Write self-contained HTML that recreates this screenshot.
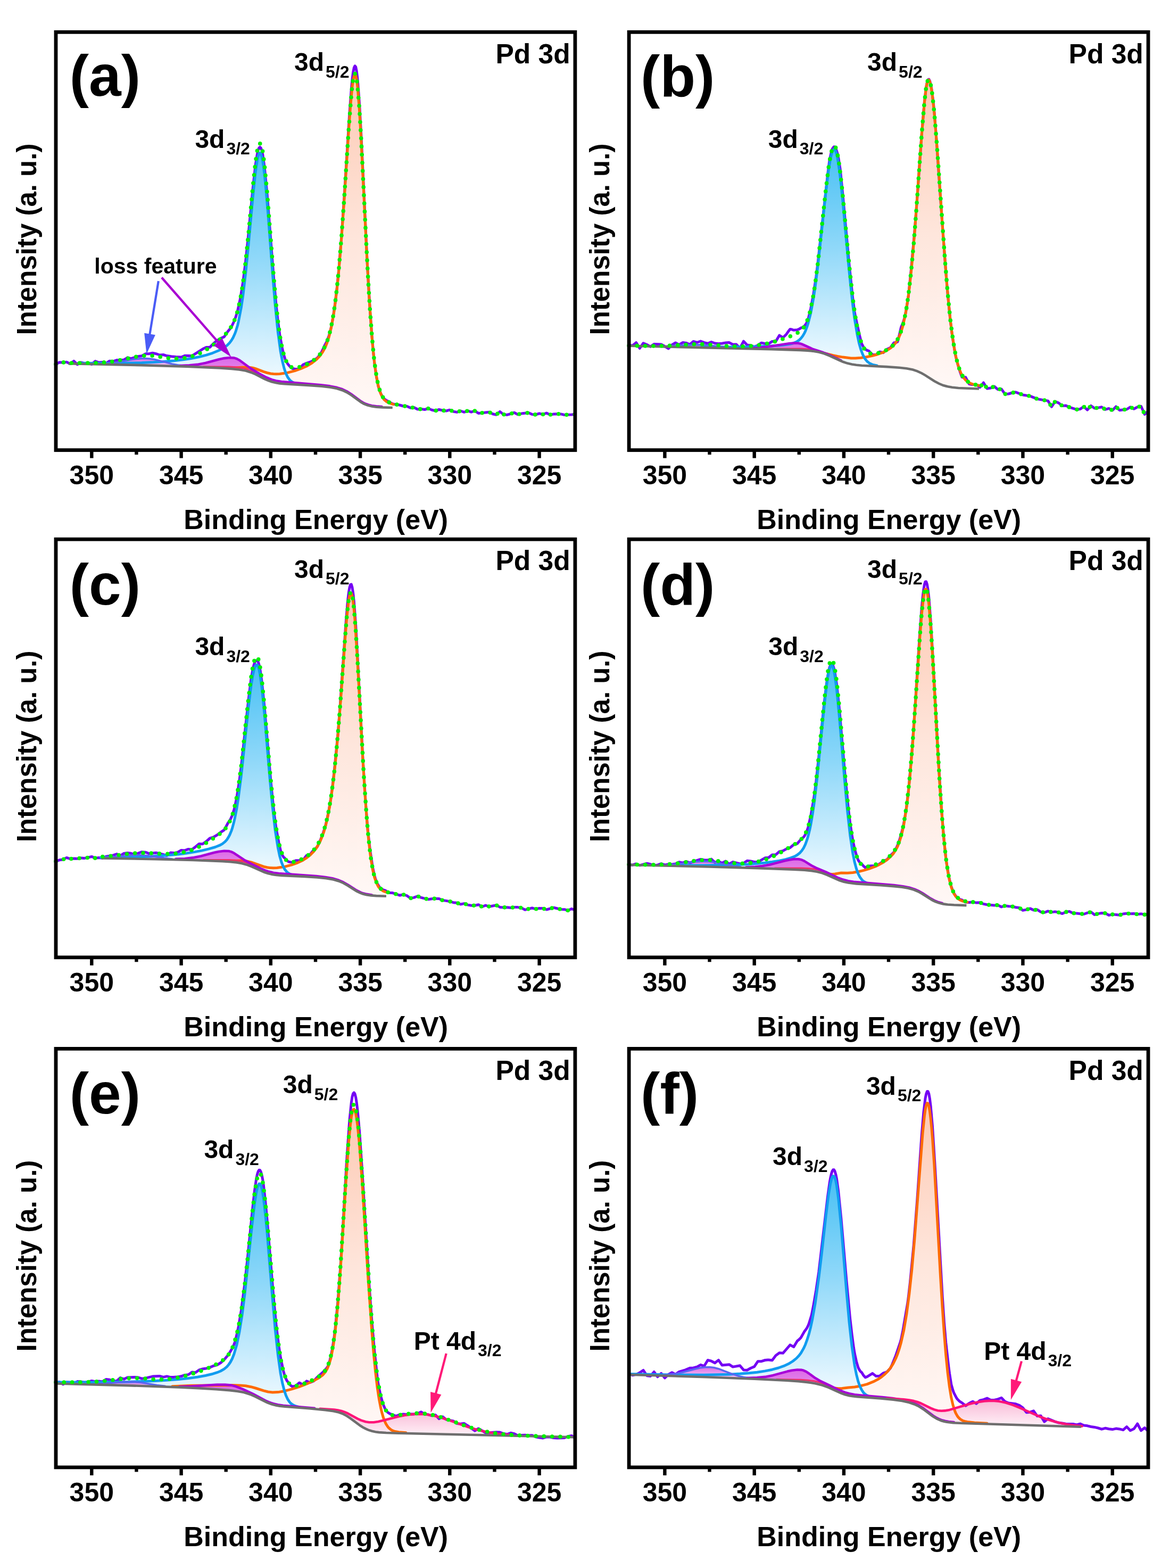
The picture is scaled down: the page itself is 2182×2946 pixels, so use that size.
<!DOCTYPE html>
<html><head><meta charset="utf-8"><title>Pd 3d XPS</title><style>
html,body{margin:0;padding:0;background:#fff;}
svg{display:block;}
text{font-family:"Liberation Sans",Arial,sans-serif;font-weight:bold;fill:#000;}
.tk{font-size:50px;text-anchor:middle;}
.xt{font-size:52px;text-anchor:middle;}
.yt{font-size:51px;text-anchor:middle;}
.pl{font-size:109px;}
.pd{font-size:51.5px;text-anchor:end;}
.pk{font-size:48px;}
.sb{font-size:32px;}
.lf{font-size:41px;}
</style></head>
<body><svg xmlns="http://www.w3.org/2000/svg" width="2182" height="2946" viewBox="0 0 2182 2946">
<rect width="2182" height="2946" fill="#fff"/>
<defs>
<linearGradient id="gBl" x1="0" y1="0" x2="0" y2="1"><stop offset="0" stop-color="#48c0f4"/><stop offset="0.45" stop-color="#8fd8f9"/><stop offset="1" stop-color="#f4fbff"/></linearGradient>
<linearGradient id="gOr" x1="0" y1="0" x2="0" y2="1"><stop offset="0" stop-color="#fdc9b3"/><stop offset="0.5" stop-color="#fee6dc"/><stop offset="1" stop-color="#fff8f6"/></linearGradient>
<linearGradient id="gMg" x1="0" y1="0" x2="0" y2="1"><stop offset="0" stop-color="#dc6ae6"/><stop offset="1" stop-color="#f8d4f8"/></linearGradient>
<linearGradient id="gPk" x1="0" y1="0" x2="0" y2="1"><stop offset="0" stop-color="#f8b6d4"/><stop offset="1" stop-color="#fff2f8"/></linearGradient>
</defs>
<g>
<path d="M423,691.4 436.5,691.2 460,689.9 468.4,690.2 473.5,690.9 478.5,692.1 498.7,699.5 505.5,701.4 510.5,702.3 517.2,702.8 524,702.6 530.7,701.9 539.1,700.4 552.6,697.1 566,692.5 576.1,688 586.2,682.1 594.6,675.5 601.4,668.5 606.4,661.4 611.5,652 614.8,643.7 618.2,633.2 623.2,612.2 628.3,582.6 633.3,542.4 636.7,508.8 641.7,448.1 646.8,376.4 655.2,246.5 658.6,200 661.9,163.7 663.6,151.1 665.3,143.1 667,139.9 668.7,141.9 670.3,149.8 672,163.3 675.4,205.4 678.8,262.9 688.9,469 692.2,532.1 697.3,611 699,632.5 702.3,668.6 705.7,696.1 709,716.2 712.4,730.5 715.8,740.3 719.1,746.9 720.8,749.3 724.2,752.9 729.2,756.2 732.6,757.6 737.7,759.1 L737.7,766 719.1,765.4 707.4,764.7 699,763.6 690.5,761.4 683.8,758.6 678.8,755.7 660.3,742.3 651.8,737.1 643.4,733.2 633.3,730 619.9,727.6 603,725.7 577.8,723.8 535.7,721.3 520.6,719.6 512.2,717.7 503.8,714.8 497,711.8 478.5,702.5 471.8,699.7 465.1,697.5 456.7,695.6 448.2,694.3 423,692 Z" fill="url(#gOr)" stroke="none"/>
<path d="M128.6,682.1 204.3,682.5 259.8,681.7 283.4,680.8 303.5,679.7 323.7,678.1 340.6,676.2 357.4,673.8 372.5,670.9 386,667.6 397.8,663.9 409.5,659.2 418,655 424.7,650.5 428.1,647.7 431.4,644.2 434.8,639.8 438.2,634.1 441.5,626.7 443.2,622.1 446.6,610.9 448.2,604.1 453.3,577.8 456.7,555 461.7,512.4 466.8,461.4 475.2,369.5 480.2,322.5 483.6,300.3 485.3,293 486.9,288.7 488.6,287.4 490.3,289.2 492,294.2 493.7,302.3 497,326.8 502.1,380.4 512.2,512.7 517.2,573.5 522.3,623.3 525.6,649.4 529,670 532.4,685.7 535.7,697.3 539.1,705.6 540.8,708.8 544.2,713.5 545.8,715.2 549.2,717.8 554.3,720.1 561,721.6 572.8,722.8 L572.8,723.4 532.4,721.1 524,720.1 515.6,718.6 508.8,716.7 502.1,714.1 478.5,702.5 468.4,698.5 461.7,696.6 455,695.3 438.2,693.2 396.1,690.5 335.5,688.1 254.8,685.9 128.6,683.1 Z" fill="url(#gBl)" stroke="none"/>
<path d="M320.4,687 347.3,686.9 357.4,686.3 367.5,685.3 375.9,684.1 386,682 411.2,675.3 421.3,673.1 431.4,672 439.8,672.4 444.9,674 449.9,676.7 470.1,691.5 490.3,703.7 502.1,709.8 512.2,713.7 520.6,715.7 530.7,717.3 599.7,723 616.5,724.9 630,727.3 640.1,730.1 645.1,732 650.2,734.4 658.6,739.5 678.8,754.2 683.8,757.1 690.5,760 699,762.2 707.4,763.4 719.1,764.2 737.7,765 L737.7,766 719.1,765.4 707.4,764.7 699,763.6 690.5,761.4 683.8,758.6 678.8,755.7 660.3,742.3 651.8,737.1 643.4,733.2 633.3,730 621.6,727.8 604.7,725.8 579.5,723.9 534.1,721.2 525.6,720.4 518.9,719.3 510.5,717.2 502.1,714.1 481.9,704.1 473.5,700.3 465.1,697.5 456.7,695.6 439.8,693.4 411.2,691.3 370.8,689.4 320.4,687.6 Z" fill="url(#gMg)" stroke="none"/>
<path d="M184.1,683.6 197.5,683 209.3,682 222.8,680.2 256.4,674.4 266.5,673.5 274.9,673.4 283.4,674.1 291.8,675.6 317,682.3 328.8,684.9 340.6,686.8 352.3,688.1 L352.3,688.7 283.4,686.6 184.1,684.3 Z" fill="url(#gMg)" stroke="none"/>
<path d="M105,684.3 111.7,680.8 118.5,681 125.2,680.3 131.9,683.4 138.7,678.4 145.4,684.9 152.1,681 158.8,682.7 165.6,681.7 172.3,684.4 179,678.6 185.8,681.1 192.5,680.6 199.2,682.5 206,678.2 212.7,678.8 219.4,676.5 226.1,676.7 232.9,676 239.6,671.8 246.3,673.7 259.8,669.5 266.5,668.7 273.3,664.8 280,664.8 286.7,663.2 293.4,664.7 300.2,667 306.9,666.5 313.6,668.6 322.1,669.8 330.5,670.5 340.6,671.1 347.3,668.2 360.8,668.6 380.9,655.8 387.7,652.5 394.4,652.5 401.1,645.6 407.9,639.7 414.6,635.8 421.3,632.9 428.1,622.8 431.4,618.9 434.8,614.3 439.8,604 443.2,595.1 446.6,583.8 451.6,561.1 456.7,530.2 461.7,490.5 466.8,441.6 475.2,354.2 480.2,309.6 483.6,288.7 485.3,281.8 486.9,277.7 488.6,276.4 490.3,278.1 492,282.6 493.7,290.1 497,313.3 502.1,365 513.9,515.4 518.9,572.3 522.3,603 525.6,627.9 530.7,655.6 534.1,669.1 535.7,674.3 537.4,678.2 540.8,683.8 544.2,687.9 545.8,689.7 549.2,692.2 554.3,693.3 559.3,693.5 562.7,693.2 569.4,685.3 576.1,682.3 584.5,679.5 591.3,676 596.3,672.5 603,664.2 606.4,657.4 609.8,649.7 613.1,643.7 614.8,640 618.2,630.8 621.6,618.5 623.2,611.1 626.6,592.1 630,568.6 633.3,540.9 636.7,507.6 641.7,445.7 646.8,372.9 656.9,213 660.3,167.9 661.9,150 663.6,136.3 665.3,127.4 667,123.8 668.7,125.9 670.3,134.3 672,148.7 675.4,193.4 678.8,254 690.5,499.6 695.6,585.6 699,631.6 702.3,668.5 704,683.6 707.4,707.4 710.7,724.5 712.4,730.6 715.8,739.7 719.1,745.7 722.5,749.6 725.9,752.3 730.9,754.8 737.7,758.7 744.4,760.1 751.1,761 757.8,763 764.6,763.2 771.3,766.3 778,765.5 784.8,769 791.5,768.5 798.2,769.5 805,767.5 811.7,770.2 818.4,771.7 825.1,769.5 831.9,771.1 838.6,772 845.3,770.2 852.1,773.2 858.8,774.4 865.5,772 872.3,774.3 879,771.9 885.7,774.2 892.5,771.9 899.2,776.5 919.4,774.3 926.1,777.8 932.8,779.2 939.6,773.4 946.3,778.6 953,779.4 959.8,777.5 966.5,775.2 973.2,778.7 979.9,777.1 993.4,775.6 1000.1,778.5 1006.9,779 1013.6,776.8 1020.3,778.6 1027.1,776 1033.8,779.2 1040.5,778 1047.2,777.7 1054,777.9 1060.7,779.5 1074.2,779 1080.9,778.4" fill="none" stroke="#7400f4" stroke-width="5" stroke-linejoin="round"/>
<path d="M429.7,691.4 460,689.9 470.1,690.4 475.2,691.2 480.2,692.6 495.4,698.4 502.1,700.5 508.8,702 513.9,702.6 518.9,702.8 525.6,702.5 532.4,701.6 540.8,700.1 554.3,696.6 566,692.5 576.1,688 586.2,682.1 594.6,675.5 601.4,668.5 606.4,661.4 611.5,652 614.8,643.7 618.2,633.2 623.2,612.2 628.3,582.6 633.3,542.4 636.7,508.8 641.7,448.1 646.8,376.4 655.2,246.5 658.6,200 661.9,163.7 663.6,151.1 665.3,143.1 667,139.9 668.7,141.9 670.3,149.8 672,163.3 675.4,205.4 678.8,262.9 688.9,469 693.9,560.7 699,632.5 700.6,651.7 704,683.4 707.4,707 710.7,724 714.1,735.8 717.5,743.9 720.8,749.3 722.5,751.3 725.9,754.2 730.9,757 739.3,759.6" fill="none" stroke="#ff6a00" stroke-width="5.0" stroke-linejoin="round" stroke-linecap="round"/>
<path d="M147.1,682.3 214.4,682.4 266.5,681.5 288.4,680.6 308.6,679.3 327.1,677.7 343.9,675.8 359.1,673.5 374.2,670.5 387.7,667.1 399.5,663.3 411.2,658.5 419.6,654 426.4,649.2 431.4,644.2 434.8,639.8 438.2,634.1 441.5,626.7 443.2,622.1 446.6,610.9 448.2,604.1 453.3,577.8 456.7,555 461.7,512.4 466.8,461.4 475.2,369.5 480.2,322.5 483.6,300.3 485.3,293 486.9,288.7 488.6,287.4 490.3,289.2 492,294.2 493.7,302.3 495.4,313.2 498.7,342.8 503.8,401.4 512.2,512.7 517.2,573.5 522.3,623.3 527.3,660.3 530.7,678.4 534.1,692 537.4,701.9 540.8,708.8 544.2,713.5 545.8,715.2 549.2,717.8 554.3,720.1 561,721.6" fill="none" stroke="#109cf0" stroke-width="5.0" stroke-linejoin="round" stroke-linecap="round"/>
<path d="M382.6,688.7 429.7,689.1 443.2,689.8 455,691.3 463.4,693.3 471.8,696.6 480.2,701.1 492,708.2" fill="none" stroke="#f0306a" stroke-width="3.0" stroke-linejoin="round" stroke-linecap="round"/>
<path d="M192.5,683.3 204.3,682.5 216.1,681.2 248,675.6 258.1,674.2 266.5,673.5 274.9,673.4 281.7,673.9 290.1,675.2 323.7,683.9 333.8,685.8 343.9,687.2" fill="none" stroke="#5a66f2" stroke-width="3.5" stroke-linejoin="round" stroke-linecap="round"/>
<path d="M338.9,687 355.7,686.4 370.8,684.9 386,682 411.2,675.3 421.3,673.1 431.4,672 439.8,672.4 444.9,674 449.9,676.7 470.1,691.5 488.6,702.7 500.4,709 510.5,713.1 518.9,715.4 529,717.1 603,723.3 619.9,725.4 633.3,728.1 643.4,731.3 651.8,735.3 660.3,740.7 677.1,753.1 682.1,756.2 687.2,758.7 692.2,760.5 699,762.2 707.4,763.4 717.5,764.1" fill="none" stroke="#a800d8" stroke-width="4.6" stroke-linejoin="round" stroke-linecap="round"/>
<path d="M128.6,683.1 264.8,686.1 350.7,688.6 412.9,691.4 434.8,692.9 449.9,694.5 461.7,696.6 471.8,699.7 480.2,703.2 497,711.8 503.8,714.8 510.5,717.2 518.9,719.3 525.6,720.4 534.1,721.2 579.5,723.9 604.7,725.8 621.6,727.8 633.3,730 643.4,733.2 651.8,737.1 660.3,742.3 678.8,755.7 683.8,758.6 690.5,761.4 699,763.6 707.4,764.7 719.1,765.4 737.7,766" fill="none" stroke="#6e6e6e" stroke-width="4.6"/>
<path d="M105,684.3 111.7,680.8 118.5,681 125.2,680.3 128.6,682 143.7,682.1 177.4,681.9 199.2,680.7 211,679.3 221.1,677.6 258.1,669.7 266.5,668.5 273.3,668 280,667.9 288.4,668.4 313.6,672.4 325.4,673.6 337.2,673.6 349,672.3 359.1,670 367.5,667.2 377.6,662.8 386,658.2 396.1,651.6 406.2,643.9 416.3,635.2 424.7,626.9 429.7,621 434.8,613.6 438.2,607.3 441.5,599.6 444.9,590 448.2,577.8 453.3,553 456.7,531.4 461.7,490.6 466.8,441.1 475.2,350.7 480.2,304.2 483.6,282.3 485.3,275.1 486.9,270.8 488.6,269.6 490.3,271.4 492,276.4 493.7,284.4 497,308.8 502.1,362.1 513.9,514.3 518.9,571 522.3,602.2 525.6,627.7 529,647.7 532.4,662.7 535.7,673.6 537.4,677.7 540.8,683.7 542.5,685.9 545.8,688.8 547.5,689.8 550.9,690.8 554.3,691.1 559.3,690.5 566,688.7 572.8,686.2 579.5,683 586.2,679 591.3,675.4 596.3,671.1 599.7,667.7 603,663.7 608.1,656 613.1,645.5 616.5,636.3 619.9,624.6 623.2,609.8 626.6,591.3 630,568.3 633.3,540.2 636.7,506.7 641.7,446 646.8,374.4 655.2,244.6 660.3,178.4 661.9,161.9 663.6,149.4 665.3,141.3 667,138.1 668.7,140.2 670.3,148.1 672,161.6 675.4,203.7 678.8,261.3 688.9,467.5 692.2,530.6 695.6,585.6 699,631.1 702.3,667.2 704,682 707.4,705.6 709,714.9 712.4,729.2 715.8,739 719.1,745.6 722.5,750 725.9,753 730.9,755.8 737.7,758 739.3,759 751.1,761 757.8,763 764.6,763.2 771.3,766.3 778,765.5 784.8,769 791.5,768.5 798.2,769.5 805,767.5 811.7,770.2 818.4,771.7 825.1,769.5 831.9,771.1 838.6,772 845.3,770.2 852.1,773.2 858.8,774.4 865.5,772 872.3,774.3 879,771.9 885.7,774.2 892.5,771.9 899.2,776.5 919.4,774.3 926.1,777.8 932.8,779.2 939.6,773.4 946.3,778.6 953,779.4 959.8,777.5 966.5,775.2 973.2,778.7 979.9,777.1 993.4,775.6 1000.1,778.5 1006.9,779 1013.6,776.8 1020.3,778.6 1027.1,776 1033.8,779.2 1040.5,778 1047.2,777.7 1054,777.9 1060.7,779.5 1074.2,779 1080.9,778.4" fill="none" stroke="#00f000" stroke-width="7.6" stroke-linecap="round" stroke-dasharray="0 15.3"/>
<rect x="105" y="60.3" width="975.9" height="785.4" fill="none" stroke="#000" stroke-width="6.8"/>
<line x1="172.3" y1="845.7" x2="172.3" y2="860.7" stroke="#000" stroke-width="6.4"/>
<text x="172.3" y="910" class="tk">350</text>
<line x1="256.4" y1="845.7" x2="256.4" y2="854.2" stroke="#000" stroke-width="6.4"/>
<line x1="340.6" y1="845.7" x2="340.6" y2="860.7" stroke="#000" stroke-width="6.4"/>
<text x="340.6" y="910" class="tk">345</text>
<line x1="424.7" y1="845.7" x2="424.7" y2="854.2" stroke="#000" stroke-width="6.4"/>
<line x1="508.8" y1="845.7" x2="508.8" y2="860.7" stroke="#000" stroke-width="6.4"/>
<text x="508.8" y="910" class="tk">340</text>
<line x1="593" y1="845.7" x2="593" y2="854.2" stroke="#000" stroke-width="6.4"/>
<line x1="677.1" y1="845.7" x2="677.1" y2="860.7" stroke="#000" stroke-width="6.4"/>
<text x="677.1" y="910" class="tk">335</text>
<line x1="761.2" y1="845.7" x2="761.2" y2="854.2" stroke="#000" stroke-width="6.4"/>
<line x1="845.3" y1="845.7" x2="845.3" y2="860.7" stroke="#000" stroke-width="6.4"/>
<text x="845.3" y="910" class="tk">330</text>
<line x1="929.5" y1="845.7" x2="929.5" y2="854.2" stroke="#000" stroke-width="6.4"/>
<line x1="1013.6" y1="845.7" x2="1013.6" y2="860.7" stroke="#000" stroke-width="6.4"/>
<text x="1013.6" y="910" class="tk">325</text>
<text x="593.6" y="993.7" class="xt">Binding Energy (eV)</text>
<text transform="translate(68,449.5) rotate(-90)" class="yt">Intensity (a. u.)</text>
<text x="130.8" y="180.2" class="pl">(a)</text>
<text x="1071.7" y="118.5" class="pd">Pd 3d</text>
<text x="553" y="133" class="pk">3d<tspan class="sb" dy="12.5" dx="3">5/2</tspan></text>
<text x="366.4" y="277.7" class="pk">3d<tspan class="sb" dy="12.5" dx="3">3/2</tspan></text>
</g>
<g>
<path d="M1543.9,662.2 1574.1,669.5 1584.2,671.1 1599.4,672.9 1607.8,673 1616.2,672.4 1626.3,671 1638.1,668.7 1648.2,666 1658.3,662.5 1666.7,658.5 1673.4,654.2 1678.5,649.9 1683.5,643.9 1688.6,635.5 1691.9,627.8 1695.3,617.8 1697,611.8 1702,588.9 1707.1,556.7 1710.4,529.3 1713.8,496.8 1718.8,438.6 1732.3,252 1737.4,191.7 1740.7,164.1 1742.4,155.4 1744.1,150.7 1745.8,150.1 1747.4,153.1 1749.1,159.3 1750.8,168.4 1752.5,180.4 1755.9,211.9 1760.9,273.9 1772.7,444.3 1779.4,532.1 1782.8,569.3 1786.1,601.4 1789.5,628.5 1792.9,650.7 1796.2,668.6 1797.9,676.1 1801.3,688.4 1804.7,697.8 1806.3,701.6 1809.7,707.8 1811.4,710.2 1814.8,714.1 1818.1,717 1821.5,719.1 1824.8,720.6 1829.9,722.3 1840,724.5 L1840,730.5 1801.3,729 1789.5,727.8 1781.1,726.3 1772.7,724 1764.3,720.5 1755.9,715.9 1739,705.1 1732.3,701.2 1723.9,697.3 1715.5,694.6 1703.7,692.2 1690.2,690.7 1666.7,689.1 1619.6,686.7 1609.5,685.8 1601.1,684.5 1592.7,682.6 1584.2,679.8 1575.8,676.2 1557.3,667.6 1550.6,665 1543.9,662.8 Z" fill="url(#gOr)" stroke="none"/>
<path d="M1249.4,650.7 1320.1,651.7 1373.9,651.9 1416,651.4 1449.6,650 1473.2,648.1 1481.6,646.9 1488.3,645.5 1493.4,643.9 1498.4,641.4 1501.8,639.1 1505.2,635.8 1508.5,631.5 1511.9,625.7 1515.3,618 1516.9,613.4 1522,595.6 1527,570.9 1532.1,538.8 1537.1,499.2 1552.3,358.5 1557.3,318.4 1560.7,298.3 1562.4,290.8 1564,285.3 1565.7,281.8 1567.4,280.4 1569.1,281.2 1570.8,284.3 1572.5,289.7 1574.1,297.4 1577.5,318.9 1582.6,363.4 1596,509.7 1601.1,558.5 1606.1,598.5 1609.5,619.9 1612.8,637.3 1616.2,651 1617.9,656.6 1621.3,665.6 1624.6,672.3 1626.3,674.9 1629.7,679 1634.7,682.9 1639.8,685.1 1648.2,687 1660,688.1 L1660,688.7 1616.2,686.4 1606.1,685.4 1597.7,683.9 1589.3,681.6 1582.6,679.2 1559,668.3 1548.9,664.4 1537.1,661.2 1530.4,660 1522,659 1500.1,657.7 1449.6,656.1 1249.4,651.3 Z" fill="url(#gBl)" stroke="none"/>
<path d="M1395.8,654 1414.3,653.8 1431.1,652.8 1447.9,650.8 1481.6,645.4 1491.7,644.6 1500.1,644.8 1503.5,645.4 1506.8,646.4 1527,655.6 1547.2,662.3 1554,664.8 1577.5,675.8 1584.2,678.6 1591,681 1597.7,682.8 1606.1,684.3 1617.9,685.6 1671.7,688.7 1695.3,690.6 L1695.3,691.2 1670.1,689.3 1619.6,686.7 1609.5,685.8 1601.1,684.5 1592.7,682.6 1584.2,679.8 1575.8,676.2 1559,668.3 1548.9,664.4 1538.8,661.6 1527,659.6 1513.6,658.4 1495.1,657.5 1395.8,654.7 Z" fill="url(#gMg)" stroke="none"/>
<path d="M1241,650.5 1261.2,649.9 1298.2,648 1316.7,647.8 1331.9,648.7 1363.8,652.3 1380.6,653.7 L1380.6,654.3 1241,651.1 Z" fill="url(#gMg)" stroke="none"/>
<path d="M1182.1,648.3 1188.8,649.4 1195.6,643.7 1202.3,654.4 1209,644.8 1215.8,647.5 1222.5,651.3 1229.2,646.4 1242.7,647 1249.4,650.7 1256.1,655 1262.9,648 1269.6,644 1276.3,647.7 1283.1,643.6 1289.8,644.4 1296.5,647.2 1303.2,641.4 1310,643.5 1316.7,641.1 1323.4,643.6 1330.2,645.3 1336.9,642.5 1343.6,645 1350.4,645.8 1357.1,645.2 1363.8,644 1370.5,643.6 1377.3,647.3 1384,647.1 1390.7,654.2 1397.5,641.2 1404.2,648.3 1410.9,649 1417.7,651.5 1424.4,648.7 1431.1,644.2 1437.9,645.6 1444.6,645.8 1451.3,641.4 1458,641.6 1464.8,630 1471.5,634.4 1478.2,627.7 1481.6,622.6 1485,618.4 1488.3,619 1491.7,620.3 1498.4,619.7 1501.8,618.4 1505.2,616.2 1508.5,615.2 1511.9,612.6 1515.3,608 1518.6,600.9 1523.7,580 1528.7,553.5 1533.8,520.1 1537.1,493.9 1555.6,327.3 1559,301.2 1562.4,285.7 1564,280.6 1565.7,277.6 1567.4,275.7 1569.1,275.9 1570.8,278.5 1574.1,289.1 1575.8,297 1579.2,318.4 1584.2,368.6 1596,497.5 1602.7,560.4 1606.1,586.1 1607.8,595.4 1616.2,633.2 1619.6,646 1622.9,652.1 1626.3,656.1 1629.7,658.3 1633,659.3 1636.4,663.1 1639.8,666.3 1644.8,666.5 1646.5,666.4 1653.2,660.9 1660,662.7 1666.7,656.2 1673.4,653.3 1680.1,644 1683.5,643.6 1686.9,642.1 1690.2,629.4 1693.6,614.8 1697,607.1 1700.3,596.3 1703.7,579.2 1707.1,557.7 1712.1,509.5 1718.8,436.4 1722.2,393.3 1732.3,251.7 1737.4,191.4 1740.7,163.6 1742.4,154.7 1744.1,149.8 1745.8,149 1747.4,151.9 1749.1,157.9 1750.8,166.9 1754.2,193.1 1755.9,210.5 1759.2,251.7 1771,420.5 1777.7,511 1781.1,551.7 1786.1,602 1789.5,629.2 1794.6,661.3 1796.2,669.5 1799.6,683 1804.7,699.7 1808,708.5 1811.4,709.4 1814.8,708.8 1821.5,721.6 1826.5,722.5 1834.9,722.6 1841.7,727.7 1848.4,719 1855.1,730 1861.9,729 1868.6,726 1875.3,731.7 1882.1,730.9 1888.8,740.4 1895.5,740 1902.2,738 1909,736.8 1922.4,742 1935.9,744.1 1949.4,749.6 1969.6,753.1 1976.3,764.3 1983,754.4 1989.7,757.1 1996.5,762.6 2003.2,761.9 2009.9,765.2 2023.4,769.4 2030.1,768.6 2036.9,764 2043.6,770.1 2050.3,762.3 2057,767 2063.8,766.1 2070.5,764.7 2077.2,769.4 2084,767.4 2090.7,770.9 2097.4,764 2104.2,770.7 2117.6,769 2124.3,764.8 2131.1,768.2 2137.8,764.7 2144.5,763.3 2151.3,778.5 2158,772.1" fill="none" stroke="#7400f4" stroke-width="5" stroke-linejoin="round"/>
<path d="M1548.9,663.3 1565.7,667.7 1574.1,669.5 1584.2,671.1 1599.4,672.9 1607.8,673 1617.9,672.2 1628,670.7 1639.8,668.3 1649.9,665.5 1660,661.8 1666.7,658.5 1673.4,654.2 1678.5,649.9 1683.5,643.9 1688.6,635.5 1691.9,627.8 1695.3,617.8 1697,611.8 1702,588.9 1707.1,556.7 1710.4,529.3 1713.8,496.8 1718.8,438.6 1732.3,252 1737.4,191.7 1740.7,164.1 1742.4,155.4 1744.1,150.7 1745.8,150.1 1747.4,153.1 1749.1,159.3 1750.8,168.4 1752.5,180.4 1755.9,211.9 1760.9,273.9 1772.7,444.3 1779.4,532.1 1782.8,569.3 1786.1,601.4 1789.5,628.5 1792.9,650.7 1796.2,668.6 1797.9,676.1 1801.3,688.4 1804.7,697.8 1806.3,701.6 1809.7,707.8 1811.4,710.2 1814.8,714.1 1818.1,717 1821.5,719.1 1824.8,720.6 1829.9,722.3 1841.7,724.8" fill="none" stroke="#ff6a00" stroke-width="5.0" stroke-linejoin="round" stroke-linecap="round"/>
<path d="M1318.4,651.6 1370.5,651.9 1412.6,651.4 1446.3,650.2 1471.5,648.3 1485,646.3 1490,645.1 1495.1,643.2 1498.4,641.4 1501.8,639.1 1505.2,635.8 1508.5,631.5 1511.9,625.7 1513.6,622.1 1516.9,613.4 1518.6,608.1 1523.7,588.2 1528.7,561.1 1532.1,538.8 1537.1,499.2 1552.3,358.5 1557.3,318.4 1560.7,298.3 1562.4,290.8 1564,285.3 1565.7,281.8 1567.4,280.4 1569.1,281.2 1570.8,284.3 1572.5,289.7 1574.1,297.4 1577.5,318.9 1580.9,347.2 1584.2,380.7 1594.3,491.9 1599.4,543.1 1602.7,572.9 1606.1,598.5 1611.2,629.1 1614.5,644.6 1617.9,656.6 1621.3,665.6 1624.6,672.3 1626.3,674.9 1629.7,679 1634.7,682.9 1639.8,685.1 1648.2,687" fill="none" stroke="#109cf0" stroke-width="5.0" stroke-linejoin="round" stroke-linecap="round"/>
<path d="M1459.7,655.2 1501.8,655.1 1513.6,655.4 1523.7,656.2 1532.1,657.5 1538.8,659.3 1545.5,661.5 1554,665.1" fill="none" stroke="#f0306a" stroke-width="3.0" stroke-linejoin="round" stroke-linecap="round"/>
<path d="M1252.8,650.2 1298.2,648 1316.7,647.8 1333.5,648.9 1370.5,652.9" fill="none" stroke="#5a66f2" stroke-width="3.5" stroke-linejoin="round" stroke-linecap="round"/>
<path d="M1410.9,653.9 1426.1,653.2 1439.5,651.9 1483.3,645.2 1491.7,644.6 1500.1,644.8 1503.5,645.4 1506.8,646.4 1527,655.6 1547.2,662.3 1554,664.8 1580.9,677.3" fill="none" stroke="#a800d8" stroke-width="4.6" stroke-linejoin="round" stroke-linecap="round"/>
<path d="M1182.1,649.8 1449.6,656.1 1503.5,657.9 1516.9,658.6 1527,659.6 1538.8,661.6 1548.9,664.4 1559,668.3 1575.8,676.2 1584.2,679.8 1592.7,682.6 1601.1,684.5 1609.5,685.8 1619.6,686.7 1666.7,689.1 1690.2,690.7 1703.7,692.2 1715.5,694.6 1723.9,697.3 1732.3,701.2 1739,705.1 1755.9,715.9 1764.3,720.5 1772.7,724 1781.1,726.3 1789.5,727.8 1801.3,729 1840,730.5" fill="none" stroke="#6e6e6e" stroke-width="4.6"/>
<path d="M1182.1,649.4 1219.1,650 1244.4,649.8 1262.9,649.1 1298.2,646.9 1315,646.5 1330.2,647 1362.1,649.9 1377.3,650.7 1397.5,650.8 1416,649.7 1429.4,648 1441.2,645.7 1453,642.7 1466.5,638.5 1485,632 1493.4,628.6 1500.1,624.7 1503.5,622.3 1506.8,619.4 1510.2,615.5 1513.6,610.1 1516.9,602.8 1518.6,598.2 1522,586.9 1523.7,580.1 1528.7,554.5 1532.1,533 1537.1,494.3 1552.3,354.4 1557.3,314 1560.7,293.5 1562.4,285.8 1564,280 1565.7,276.2 1567.4,274.5 1569.1,274.9 1570.8,277.7 1572.5,282.7 1574.1,290 1577.5,310.6 1582.6,353.9 1596,497.7 1602.7,560 1606.1,585.2 1609.5,606.1 1612.8,622.9 1616.2,636 1619.6,645.8 1621.3,649.7 1624.6,655.7 1626.3,658 1629.7,661.3 1633,663.3 1636.4,664.4 1639.8,664.8 1644.8,664.6 1649.9,663.6 1656.6,661.7 1663.3,658.9 1668.4,656.3 1673.4,653.1 1676.8,650.4 1681.8,645.1 1686.9,637.6 1690.2,630.9 1693.6,622.2 1697,610.9 1700.3,596.6 1703.7,578.4 1707.1,555.9 1712.1,512.9 1717.2,458.4 1722.2,393.7 1732.3,251.3 1737.4,191.1 1740.7,163.4 1742.4,154.8 1744.1,150.1 1745.8,149.5 1747.4,152.5 1749.1,158.7 1750.8,167.8 1752.5,179.8 1755.9,211.4 1760.9,273.4 1776.1,489.7 1781.1,550.8 1786.1,601 1791.2,639.8 1796.2,668.2 1799.6,682.2 1803,693 1806.3,701.2 1809.7,707.4 1811.4,709.8 1814.8,713.7 1819.8,717.7 1823.2,719.5 1828.2,721.5 1833.3,722.9 1840,724.2 1841.7,727.7 1848.4,719 1855.1,730 1861.9,729 1868.6,726 1875.3,731.7 1882.1,730.9 1888.8,740.4 1895.5,740 1902.2,738 1909,736.8 1922.4,742 1935.9,744.1 1949.4,749.6 1969.6,753.1 1976.3,764.3 1983,754.4 1989.7,757.1 1996.5,762.6 2003.2,761.9 2009.9,765.2 2023.4,769.4 2030.1,768.6 2036.9,764 2043.6,770.1 2050.3,762.3 2057,767 2063.8,766.1 2070.5,764.7 2077.2,769.4 2084,767.4 2090.7,770.9 2097.4,764 2104.2,770.7 2117.6,769 2124.3,764.8 2131.1,768.2 2137.8,764.7 2144.5,763.3 2151.3,778.5 2158,772.1" fill="none" stroke="#00f000" stroke-width="7.6" stroke-linecap="round" stroke-dasharray="0 15.3"/>
<rect x="1182.1" y="60.3" width="975.9" height="785.4" fill="none" stroke="#000" stroke-width="6.8"/>
<line x1="1249.4" y1="845.7" x2="1249.4" y2="860.7" stroke="#000" stroke-width="6.4"/>
<text x="1249.4" y="910" class="tk">350</text>
<line x1="1333.5" y1="845.7" x2="1333.5" y2="854.2" stroke="#000" stroke-width="6.4"/>
<line x1="1417.7" y1="845.7" x2="1417.7" y2="860.7" stroke="#000" stroke-width="6.4"/>
<text x="1417.7" y="910" class="tk">345</text>
<line x1="1501.8" y1="845.7" x2="1501.8" y2="854.2" stroke="#000" stroke-width="6.4"/>
<line x1="1585.9" y1="845.7" x2="1585.9" y2="860.7" stroke="#000" stroke-width="6.4"/>
<text x="1585.9" y="910" class="tk">340</text>
<line x1="1670" y1="845.7" x2="1670" y2="854.2" stroke="#000" stroke-width="6.4"/>
<line x1="1754.2" y1="845.7" x2="1754.2" y2="860.7" stroke="#000" stroke-width="6.4"/>
<text x="1754.2" y="910" class="tk">335</text>
<line x1="1838.3" y1="845.7" x2="1838.3" y2="854.2" stroke="#000" stroke-width="6.4"/>
<line x1="1922.4" y1="845.7" x2="1922.4" y2="860.7" stroke="#000" stroke-width="6.4"/>
<text x="1922.4" y="910" class="tk">330</text>
<line x1="2006.6" y1="845.7" x2="2006.6" y2="854.2" stroke="#000" stroke-width="6.4"/>
<line x1="2090.7" y1="845.7" x2="2090.7" y2="860.7" stroke="#000" stroke-width="6.4"/>
<text x="2090.7" y="910" class="tk">325</text>
<text x="1670.6" y="993.7" class="xt">Binding Energy (eV)</text>
<text transform="translate(1145.1,449.5) rotate(-90)" class="yt">Intensity (a. u.)</text>
<text x="1204.1" y="180.7" class="pl">(b)</text>
<text x="2148.8" y="118.5" class="pd">Pd 3d</text>
<text x="1630.1" y="133.2" class="pk">3d<tspan class="sb" dy="12.5" dx="3">5/2</tspan></text>
<text x="1443.8" y="277.7" class="pk">3d<tspan class="sb" dy="12.5" dx="3">3/2</tspan></text>
</g>
<g>
<path d="M418,1617.6 449.9,1616.9 461.7,1617.7 466.8,1618.6 471.8,1619.9 495.4,1628.2 502.1,1629.7 507.1,1630.4 512.2,1630.7 518.9,1630.5 525.6,1629.9 534.1,1628.5 545.8,1625.6 557.6,1621.7 567.7,1617 576.1,1611.9 582.9,1606.6 589.6,1599.7 593,1595.5 596.3,1590.5 601.4,1581.3 604.7,1573.6 608.1,1564.4 611.5,1553.2 614.8,1539.5 619.9,1513.6 624.9,1479.5 630,1435.8 635,1381.6 640.1,1317.4 648.5,1200.5 651.8,1159.4 655.2,1129.1 656.9,1119.6 658.6,1114.6 660.3,1114.4 661.9,1119.4 663.6,1129.6 665.3,1144.7 668.7,1187.5 672,1242.9 680.4,1400.3 685.5,1485.7 690.5,1553.8 693.9,1588.5 695.6,1602.8 699,1625.8 702.3,1642.5 705.7,1654.2 709,1662.2 710.7,1665.2 714.1,1669.5 715.8,1671.2 719.1,1673.6 722.5,1675.2 725.9,1676.4 L725.9,1683.7 707.4,1683.1 697.3,1682.4 688.9,1681.3 682.1,1679.6 677.1,1677.7 670.3,1674.4 653.5,1663.7 645.1,1659 635,1654.9 624.9,1652.2 611.5,1650 594.6,1648.3 571.1,1646.8 529,1644.9 513.9,1643.3 505.5,1641.5 498.7,1639.5 490.3,1636 471.8,1627.6 465.1,1625.1 458.3,1623 449.9,1621.2 441.5,1620 418,1618.3 Z" fill="url(#gOr)" stroke="none"/>
<path d="M190.8,1610.9 243,1610.2 285,1608.8 320.4,1606.4 337.2,1604.7 352.3,1602.8 367.5,1600.3 380.9,1597.7 394.4,1594.5 404.5,1591.5 412.9,1588.2 418,1585.4 423,1581.4 426.4,1577.6 429.7,1572.4 431.4,1569.2 434.8,1561.1 436.5,1556.1 439.8,1543.8 441.5,1536.4 444.9,1518.8 448.2,1497.3 453.3,1457.7 466.8,1329.8 471.8,1288.6 475.2,1268 476.9,1260.3 478.5,1254.6 480.2,1250.8 481.9,1249 483.6,1249.2 485.3,1252.1 486.9,1257.8 488.6,1266.2 492,1290.4 497,1341 507.1,1461.6 512.2,1515.9 517.2,1559.8 520.6,1582.7 524,1600.7 527.3,1614.3 530.7,1624.3 534.1,1631.5 537.4,1636.4 539.1,1638.2 542.5,1640.9 547.5,1643.3 554.3,1644.8 564.3,1645.9 L564.3,1646.5 525.6,1644.6 517.2,1643.8 508.8,1642.4 502.1,1640.6 495.4,1638.2 473.5,1628.3 463.4,1624.5 451.6,1621.5 436.5,1619.5 402.8,1617.5 349,1615.6 283.4,1614 190.8,1612.4 Z" fill="url(#gBl)" stroke="none"/>
<path d="M312,1614 337.2,1613.7 347.3,1613.2 357.4,1612.1 365.8,1610.9 375.9,1608.8 402.8,1601.8 411.2,1600 421.3,1598.8 429.7,1599 434.8,1600.4 439.8,1602.8 458.3,1615.2 471.8,1622.6 492,1632.7 498.7,1635.5 505.5,1637.7 513.9,1639.7 524,1641.1 593,1645.9 609.8,1647.7 623.2,1650 633.3,1652.6 643.4,1656.6 651.8,1661.1 670.3,1673 677.1,1676.4 682.1,1678.3 688.9,1680 697.3,1681.2 707.4,1682 725.9,1682.6 L725.9,1683.7 707.4,1683.1 697.3,1682.4 688.9,1681.3 682.1,1679.6 677.1,1677.7 670.3,1674.4 653.5,1663.7 645.1,1659 636.7,1655.5 626.6,1652.6 613.1,1650.2 596.3,1648.5 572.8,1646.9 529,1644.9 518.9,1644 512.2,1643 503.8,1641.1 497,1638.8 473.5,1628.3 465.1,1625.1 456.7,1622.6 448.2,1620.9 433.1,1619.2 406.2,1617.7 364.1,1616.1 312,1614.7 Z" fill="url(#gMg)" stroke="none"/>
<path d="M190.8,1611.3 209.3,1610.2 244.7,1607.1 263.2,1606.6 278.3,1607.7 312,1612.6 332.1,1614.5 L332.1,1615.2 190.8,1612.4 Z" fill="url(#gMg)" stroke="none"/>
<path d="M105,1618.3 111.7,1615.8 118.5,1614.9 125.2,1611.4 131.9,1613.6 138.7,1613.1 145.4,1613.2 152.1,1611.9 158.8,1612.4 165.6,1611.2 172.3,1609.4 179,1612.3 185.8,1611.6 192.5,1612.3 199.2,1609.2 212.7,1606.9 219.4,1604.5 226.1,1607.7 232.9,1603.5 239.6,1602.5 246.3,1603.3 253.1,1605.4 266.5,1600.7 273.3,1601.2 280,1603.6 293.4,1602.3 300.2,1603.6 313.6,1607.5 320.4,1602.1 327.1,1602.6 333.8,1601.4 340.6,1597.4 347.3,1597.9 354,1595.4 360.8,1596.1 367.5,1591 374.2,1585.4 380.9,1585.8 387.7,1580.8 394.4,1575 401.1,1573 407.9,1568.9 414.6,1563.8 421.3,1559.3 424.7,1553.5 428.1,1546.8 431.4,1542.2 433.1,1539.4 436.5,1531.8 439.8,1521.5 441.5,1515.1 444.9,1498.6 449.9,1466.6 453.3,1440.5 466.8,1316.5 471.8,1276.5 475.2,1257 476.9,1250.3 478.5,1245.4 480.2,1242.2 481.9,1240.9 483.6,1241.1 485.3,1243.7 486.9,1249 488.6,1256.7 492,1279.7 497,1328.2 508.8,1466.4 513.9,1517.2 515.6,1531.7 518.9,1555.6 524,1583.2 527.3,1597.8 529,1603.7 532.4,1609.6 534.1,1611.5 535.7,1612.8 539.1,1616.6 540.8,1618 542.5,1619.1 545.8,1619.8 549.2,1619.9 555.9,1616.8 562.7,1616.8 569.4,1616.1 576.1,1607.3 582.9,1605.2 589.6,1596.8 593,1594.2 596.3,1590.8 601.4,1580.2 606.4,1567.8 611.5,1552 614.8,1538.4 618.2,1521.7 621.6,1501.6 624.9,1477.2 628.3,1448.1 635,1380 638.4,1337.5 650.2,1168.7 653.5,1129.3 655.2,1114.5 656.9,1104.1 658.6,1098.4 660.3,1097.9 661.9,1103.2 663.6,1114.1 665.3,1130.4 668.7,1176.3 672,1235.1 682.1,1428.3 687.2,1508.4 690.5,1551.2 692.2,1568.9 695.6,1597.9 700.6,1630.6 704,1646.1 705.7,1651.6 709,1659.9 712.4,1665.5 714.1,1667.5 717.5,1670.5 720.8,1672.1 724.2,1673.2 730.9,1677.5 737.7,1677.6 751.1,1682.2 757.8,1680.8 764.6,1682.7 771.3,1687.6 778,1686.4 784.8,1683.7 791.5,1686.4 805,1689.8 811.7,1688.7 818.4,1688.2 825.1,1688.5 831.9,1691.6 835.2,1691.9 845.3,1693.6 852.1,1695.7 858.8,1696.3 865.5,1699 872.3,1697.6 879,1700.1 885.7,1701.3 892.5,1701.3 899.2,1699.7 905.9,1703.7 912.6,1701 919.4,1703.3 932.8,1700.8 939.6,1704.4 946.3,1704.9 953,1704.7 959.8,1705.6 966.5,1704.4 973.2,1704.6 979.9,1705.8 986.7,1709.4 1000.1,1706 1006.9,1707.9 1013.6,1706.5 1020.3,1706.7 1027.1,1709 1040.5,1705.3 1054,1708.5 1060.7,1708.7 1067.4,1710.5 1074.2,1707.5 1080.9,1709.9" fill="none" stroke="#7400f4" stroke-width="5" stroke-linejoin="round"/>
<path d="M426.4,1617.6 451.6,1617 458.3,1617.3 463.4,1618 471.8,1619.9 495.4,1628.2 502.1,1629.7 507.1,1630.4 513.9,1630.7 520.6,1630.4 527.3,1629.6 535.7,1628.1 547.5,1625.1 557.6,1621.7 567.7,1617 576.1,1611.9 582.9,1606.6 589.6,1599.7 593,1595.5 596.3,1590.5 601.4,1581.3 604.7,1573.6 608.1,1564.4 611.5,1553.2 614.8,1539.5 619.9,1513.6 624.9,1479.5 630,1435.8 635,1381.6 640.1,1317.4 648.5,1200.5 651.8,1159.4 655.2,1129.1 656.9,1119.6 658.6,1114.6 660.3,1114.4 661.9,1119.4 663.6,1129.6 665.3,1144.7 667,1164.2 672,1242.9 680.4,1400.3 685.5,1485.7 690.5,1553.8 692.2,1572.2 695.6,1602.8 697.3,1615.1 700.6,1634.8 704,1648.9 707.4,1658.6 710.7,1665.2 712.4,1667.6 715.8,1671.2 720.8,1674.5 727.6,1676.9" fill="none" stroke="#ff6a00" stroke-width="5.0" stroke-linejoin="round" stroke-linecap="round"/>
<path d="M189.1,1610.9 241.3,1610.3 283.4,1608.9 318.7,1606.5 335.5,1604.9 350.7,1603 365.8,1600.6 379.3,1598.1 392.7,1594.9 404.5,1591.5 412.9,1588.2 418,1585.4 423,1581.4 426.4,1577.6 429.7,1572.4 431.4,1569.2 434.8,1561.1 436.5,1556.1 439.8,1543.8 441.5,1536.4 444.9,1518.8 448.2,1497.3 453.3,1457.7 466.8,1329.8 471.8,1288.6 475.2,1268 476.9,1260.3 478.5,1254.6 480.2,1250.8 481.9,1249 483.6,1249.2 485.3,1252.1 486.9,1257.8 488.6,1266.2 492,1290.4 497,1341 507.1,1461.6 512.2,1515.9 517.2,1559.8 522.3,1592.2 525.6,1608 529,1619.7 532.4,1628.2 535.7,1634.2 539.1,1638.2 540.8,1639.7 544.2,1641.9 549.2,1643.8 555.9,1645.1" fill="none" stroke="#109cf0" stroke-width="5.0" stroke-linejoin="round" stroke-linecap="round"/>
<path d="M382.6,1615.6 429.7,1615.5 441.5,1616.2 451.6,1617.5 460,1619.6 466.8,1622.1 473.5,1625.4 492,1635.7" fill="none" stroke="#f0306a" stroke-width="3.0" stroke-linejoin="round" stroke-linecap="round"/>
<path d="M192.5,1611.3 209.3,1610.2 244.7,1607.1 263.2,1606.6 278.3,1607.7 308.6,1612.1 323.7,1613.9" fill="none" stroke="#5a66f2" stroke-width="3.5" stroke-linejoin="round" stroke-linecap="round"/>
<path d="M330.5,1613.9 347.3,1613.2 362.4,1611.4 377.6,1608.5 402.8,1601.8 411.2,1600 421.3,1598.8 429.7,1599 434.8,1600.4 439.8,1602.8 458.3,1615.2 470.1,1621.7 492,1632.7 498.7,1635.5 503.8,1637.2 513.9,1639.7 524,1641.1 594.6,1646.1 611.5,1648 624.9,1650.3 635,1653.2 645.1,1657.4 653.5,1662.2 668.7,1672 677.1,1676.4 682.1,1678.3 687.2,1679.6 699,1681.4" fill="none" stroke="#a800d8" stroke-width="4.6" stroke-linejoin="round" stroke-linecap="round"/>
<path d="M190.8,1612.4 291.8,1614.2 362.4,1616 418,1618.3 433.1,1619.2 444.9,1620.4 455,1622.2 465.1,1625.1 473.5,1628.3 497,1638.8 503.8,1641.1 512.2,1643 518.9,1644 529,1644.9 572.8,1646.9 596.3,1648.5 613.1,1650.2 626.6,1652.6 636.7,1655.5 645.1,1659 653.5,1663.7 670.3,1674.4 677.1,1677.7 682.1,1679.6 688.9,1681.3 697.3,1682.4 707.4,1683.1 725.9,1683.7" fill="none" stroke="#6e6e6e" stroke-width="4.6"/>
<path d="M105,1618.3 111.7,1615.8 118.5,1614.9 125.2,1611.4 131.9,1613.6 138.7,1613.1 145.4,1613.2 152.1,1611.9 158.8,1612.4 165.6,1611.2 172.3,1609.4 179,1612.3 185.8,1611.6 189.1,1611.9 190.8,1609.7 209.3,1608.2 243,1604 256.4,1602.8 273.3,1602.4 303.5,1604.1 315.3,1604.3 328.8,1603.6 340.6,1602 350.7,1599.8 360.8,1596.7 369.2,1593.3 379.3,1588.5 391,1581.7 406.2,1571.8 414.6,1565.6 421.3,1559.4 424.7,1555.5 428.1,1550.5 431.4,1544.3 434.8,1536.5 438.2,1526.5 439.8,1520.4 444.9,1497.2 448.2,1476.9 453.3,1439.1 466.8,1313.6 471.8,1272.8 475.2,1252.6 476.9,1245 478.5,1239.4 480.2,1235.7 481.9,1234 483.6,1234.3 485.3,1237.2 486.9,1243 488.6,1251.4 492,1275.6 497,1326.1 507.1,1446 512.2,1499.7 515.6,1529.8 518.9,1554.8 522.3,1574.6 525.6,1589.8 529,1600.9 530.7,1605.2 534.1,1611.6 535.7,1613.9 539.1,1617.1 540.8,1618.1 544.2,1619.3 547.5,1619.7 552.6,1619.2 557.6,1618 562.7,1616.1 569.4,1613 574.4,1610.1 579.5,1606.5 584.5,1602.3 591.3,1595.1 596.3,1588 601.4,1578.9 606.4,1566.9 611.5,1550.9 614.8,1537.3 618.2,1520.9 621.6,1501.1 624.9,1477.5 628.3,1449.5 633.3,1398.9 638.4,1337.9 648.5,1198.7 651.8,1157.7 655.2,1127.4 656.9,1117.9 658.6,1112.9 660.3,1112.7 661.9,1117.7 663.6,1128 665.3,1143.1 668.7,1186 672,1241.3 683.8,1457.5 688.9,1531.9 692.2,1570.9 695.6,1601.5 697.3,1613.8 700.6,1633.5 702.3,1641.2 705.7,1652.9 709,1661 712.4,1666.4 715.8,1670 719.1,1672.4 724.2,1674.7 725.9,1675.3 727.6,1675.4 730.9,1677.5 737.7,1677.6 751.1,1682.2 757.8,1680.8 764.6,1682.7 771.3,1687.6 778,1686.4 784.8,1683.7 791.5,1686.4 805,1689.8 811.7,1688.7 818.4,1688.2 825.1,1688.5 831.9,1691.6 835.2,1691.9 845.3,1693.6 852.1,1695.7 858.8,1696.3 865.5,1699 872.3,1697.6 879,1700.1 885.7,1701.3 892.5,1701.3 899.2,1699.7 905.9,1703.7 912.6,1701 919.4,1703.3 932.8,1700.8 939.6,1704.4 946.3,1704.9 953,1704.7 959.8,1705.6 966.5,1704.4 973.2,1704.6 979.9,1705.8 986.7,1709.4 1000.1,1706 1006.9,1707.9 1013.6,1706.5 1020.3,1706.7 1027.1,1709 1040.5,1705.3 1054,1708.5 1060.7,1708.7 1067.4,1710.5 1074.2,1707.5 1080.9,1709.9" fill="none" stroke="#00f000" stroke-width="7.6" stroke-linecap="round" stroke-dasharray="0 15.3"/>
<rect x="105" y="1013.2" width="975.9" height="785.6" fill="none" stroke="#000" stroke-width="6.8"/>
<line x1="172.3" y1="1798.8" x2="172.3" y2="1813.8" stroke="#000" stroke-width="6.4"/>
<text x="172.3" y="1863.1" class="tk">350</text>
<line x1="256.4" y1="1798.8" x2="256.4" y2="1807.3" stroke="#000" stroke-width="6.4"/>
<line x1="340.6" y1="1798.8" x2="340.6" y2="1813.8" stroke="#000" stroke-width="6.4"/>
<text x="340.6" y="1863.1" class="tk">345</text>
<line x1="424.7" y1="1798.8" x2="424.7" y2="1807.3" stroke="#000" stroke-width="6.4"/>
<line x1="508.8" y1="1798.8" x2="508.8" y2="1813.8" stroke="#000" stroke-width="6.4"/>
<text x="508.8" y="1863.1" class="tk">340</text>
<line x1="593" y1="1798.8" x2="593" y2="1807.3" stroke="#000" stroke-width="6.4"/>
<line x1="677.1" y1="1798.8" x2="677.1" y2="1813.8" stroke="#000" stroke-width="6.4"/>
<text x="677.1" y="1863.1" class="tk">335</text>
<line x1="761.2" y1="1798.8" x2="761.2" y2="1807.3" stroke="#000" stroke-width="6.4"/>
<line x1="845.3" y1="1798.8" x2="845.3" y2="1813.8" stroke="#000" stroke-width="6.4"/>
<text x="845.3" y="1863.1" class="tk">330</text>
<line x1="929.5" y1="1798.8" x2="929.5" y2="1807.3" stroke="#000" stroke-width="6.4"/>
<line x1="1013.6" y1="1798.8" x2="1013.6" y2="1813.8" stroke="#000" stroke-width="6.4"/>
<text x="1013.6" y="1863.1" class="tk">325</text>
<text x="593.6" y="1946.8" class="xt">Binding Energy (eV)</text>
<text transform="translate(68,1402.4) rotate(-90)" class="yt">Intensity (a. u.)</text>
<text x="130.8" y="1136.2" class="pl">(c)</text>
<text x="1071.7" y="1071.4" class="pd">Pd 3d</text>
<text x="553" y="1085.8" class="pk">3d<tspan class="sb" dy="12.5" dx="3">5/2</tspan></text>
<text x="366.4" y="1231" class="pk">3d<tspan class="sb" dy="12.5" dx="3">3/2</tspan></text>
</g>
<g>
<path d="M1545.5,1639.8 1555.6,1641.9 1562.4,1642.5 1569.1,1642 1580.9,1640 1592.7,1640.3 1601.1,1639.7 1611.2,1638.1 1621.3,1635.8 1631.4,1632.9 1641.4,1629.3 1651.5,1624.9 1660,1620.2 1666.7,1615.7 1673.4,1609.9 1678.5,1604.3 1683.5,1596.9 1686.9,1590.3 1690.2,1582 1693.6,1571.2 1695.3,1564.7 1698.7,1548.9 1703.7,1516.9 1707.1,1488.9 1710.4,1455.2 1715.5,1393.9 1728.9,1195.6 1732.3,1152.8 1735.7,1121.7 1737.4,1112.1 1739,1107.1 1740.7,1106.9 1742.4,1111.7 1744.1,1121.3 1745.8,1135.5 1749.1,1175.9 1752.5,1228.6 1762.6,1413 1767.6,1496.2 1772.7,1563.2 1777.7,1612.4 1781.1,1636.2 1784.5,1653.9 1787.8,1666.6 1791.2,1675.7 1792.9,1679.1 1796.2,1684.2 1797.9,1686.1 1801.3,1689.1 1804.7,1691.1 1808,1692.5 1816.4,1694.8 L1816.4,1701.1 1792.9,1700.3 1781.1,1699.5 1772.7,1698.4 1764.3,1696.4 1757.5,1693.9 1752.5,1691.4 1732.3,1678.8 1725.6,1675.1 1717.2,1671.6 1707.1,1668.8 1695.3,1666.8 1680.1,1665.1 1654.9,1663.2 1609.5,1660.4 1594.3,1658.6 1585.9,1656.7 1577.5,1654 1554,1643.6 1545.5,1640.4 Z" fill="url(#gOr)" stroke="none"/>
<path d="M1197.2,1624.7 1276.3,1625.7 1333.5,1625.8 1379,1624.9 1416,1623 1432.8,1621.5 1447.9,1619.8 1461.4,1617.7 1474.9,1615 1485,1612.3 1493.4,1609.1 1498.4,1606.3 1503.5,1602.2 1506.8,1598.4 1510.2,1593.3 1513.6,1586.4 1515.3,1582.1 1518.6,1571.5 1520.3,1565.1 1525.3,1540.4 1530.4,1506.7 1535.4,1464 1547.2,1343.9 1552.3,1296.8 1555.6,1272.5 1557.3,1263.2 1559,1256.3 1560.7,1251.8 1562.4,1249.9 1564,1250.7 1565.7,1254.4 1567.4,1260.7 1569.1,1269.8 1572.5,1294.9 1577.5,1346.5 1587.6,1468.4 1592.7,1523.7 1597.7,1568.8 1601.1,1592.7 1604.4,1611.6 1607.8,1626.3 1611.2,1637.1 1614.5,1645 1616.2,1648 1619.6,1652.6 1621.3,1654.4 1624.6,1656.9 1629.7,1659.2 1636.4,1660.8 1648.2,1662.1 L1648.2,1662.8 1607.8,1660.3 1599.4,1659.4 1591,1658 1584.2,1656.3 1577.5,1654 1554,1643.6 1543.9,1639.9 1532.1,1637.1 1516.9,1635.2 1479.9,1633.1 1417.7,1630.9 1197.2,1625.3 Z" fill="url(#gBl)" stroke="none"/>
<path d="M1384,1629.3 1409.2,1629.1 1419.3,1628.5 1429.4,1627.5 1437.9,1626.3 1447.9,1624.3 1474.9,1617.2 1483.3,1615.4 1493.4,1614.1 1501.8,1614.3 1505.2,1615 1510.2,1617 1527,1627.2 1533.8,1630.6 1552.3,1638.4 1575.8,1649.5 1582.6,1652.1 1587.6,1653.6 1596,1655.5 1606.1,1656.9 1675.1,1662.6 1691.9,1664.5 1703.7,1666.3 1713.8,1668.8 1723.9,1672.7 1732.3,1677.3 1752.5,1690.1 1757.5,1692.6 1764.3,1695.1 1772.7,1697.2 1781.1,1698.4 1794.6,1699.3 1816.4,1700.2 L1816.4,1701.1 1792.9,1700.3 1781.1,1699.5 1772.7,1698.4 1764.3,1696.4 1757.5,1693.9 1752.5,1691.4 1732.3,1678.8 1725.6,1675.1 1717.2,1671.6 1707.1,1668.8 1695.3,1666.8 1680.1,1665.1 1654.9,1663.2 1609.5,1660.4 1594.3,1658.6 1585.9,1656.7 1577.5,1654 1555.6,1644.3 1547.2,1641 1538.8,1638.5 1530.4,1636.8 1515.3,1635.1 1490,1633.6 1444.6,1631.8 1384,1629.9 Z" fill="url(#gMg)" stroke="none"/>
<path d="M1239.3,1625.6 1262.9,1624.5 1276.3,1623.2 1308.3,1619.1 1318.4,1618.4 1326.8,1618.4 1333.5,1618.8 1340.3,1619.6 1377.3,1626.9 1389.1,1628.6 1400.8,1629.7 L1400.8,1630.4 1239.3,1626.3 Z" fill="url(#gMg)" stroke="none"/>
<path d="M1182.1,1624.4 1188.8,1625.2 1195.6,1623 1202.3,1625.8 1215.8,1622.2 1222.5,1623.8 1229.2,1625.7 1235.9,1625.2 1242.7,1622.7 1249.4,1625.2 1256.1,1623.6 1262.9,1623.9 1269.6,1623 1276.3,1619.8 1283.1,1621.2 1289.8,1618.6 1296.5,1621 1316.7,1614.4 1323.4,1615.7 1330.2,1615.9 1336.9,1614.1 1343.6,1620.3 1350.4,1618.4 1357.1,1621.5 1363.8,1618.1 1370.5,1623.5 1377.3,1619.4 1390.7,1623 1395.8,1622.1 1397.5,1621.8 1404.2,1617.2 1410.9,1618 1417.7,1619.5 1424.4,1619.6 1437.9,1611.8 1444.6,1611.3 1451.3,1605.9 1458,1605.9 1464.8,1599.9 1471.5,1598.7 1478.2,1594.9 1485,1592.6 1491.7,1587 1498.4,1585 1505.2,1577.2 1510.2,1572.8 1511.9,1570.7 1513.6,1567.8 1516.9,1560.2 1518.6,1555.4 1523.7,1533.1 1528.7,1505.3 1532.1,1482.3 1533.8,1468.6 1538.8,1422.3 1548.9,1321.6 1554,1280.5 1557.3,1260.8 1559,1254.1 1560.7,1249.8 1562.4,1247.7 1564,1248.1 1565.7,1250.9 1567.4,1256.1 1569.1,1263.7 1572.5,1285.6 1577.5,1332.2 1587.6,1450.4 1594.3,1518.5 1597.7,1546.6 1601.1,1569.3 1604.4,1586.9 1607.8,1600.8 1611.2,1611.7 1612.8,1615.9 1614.5,1618.6 1616.2,1620.7 1619.6,1623.3 1622.9,1627.2 1626.3,1630 1629.7,1628.7 1633,1626.9 1639.8,1626.7 1646.5,1627.2 1653.2,1622.9 1660,1617.9 1666.7,1615.3 1673.4,1607.4 1676.8,1604.5 1680.1,1601 1685.2,1591.9 1688.6,1583.9 1691.9,1573.7 1697,1554.8 1700.3,1538 1703.7,1515.9 1707.1,1488.3 1708.7,1471.7 1713.8,1413.2 1718.8,1343.2 1728.9,1187.4 1732.3,1141.8 1734,1123.2 1735.7,1108.6 1737.4,1098.3 1739,1093 1740.7,1092.8 1742.4,1097.9 1744.1,1108.1 1745.8,1123.2 1749.1,1166.3 1752.5,1222.4 1764.3,1439.3 1769.3,1517.9 1774.4,1581.5 1777.7,1611.7 1779.4,1624 1782.8,1644.3 1784.5,1652.6 1787.8,1665.5 1791.2,1674.7 1794.6,1681.1 1797.9,1685.4 1801.3,1688.3 1804.7,1689.9 1808,1690.9 1814.8,1695 1821.5,1695.5 1828.2,1694.8 1834.9,1696.1 1841.7,1695.7 1848.4,1698.4 1855.1,1699.8 1868.6,1701 1875.3,1700.5 1882.1,1703.9 1888.8,1701.8 1895.5,1702.8 1902.2,1703.1 1909,1704.8 1915.7,1705.5 1922.4,1710.4 1929.2,1709.1 1935.9,1706.9 1942.6,1709.9 1949.4,1709.1 1956.1,1713.3 1962.8,1714.5 1969.6,1711.9 1976.3,1713.9 1983,1712.9 1989.7,1714.2 1996.5,1716.6 2003.2,1713.5 2009.9,1712.4 2016.7,1715.8 2023.4,1715.9 2036.9,1717.5 2043.6,1715.2 2050.3,1713.5 2057,1718.6 2063.8,1716.6 2070.5,1715.5 2077.2,1715.8 2084,1719.5 2090.7,1718.1 2097.4,1718.4 2104.2,1719.3 2110.9,1717 2117.6,1716.3 2124.3,1716.8 2131.1,1716.5 2137.8,1717.8 2144.5,1716.9 2151.3,1718.4 2158,1717.6" fill="none" stroke="#7400f4" stroke-width="5" stroke-linejoin="round"/>
<path d="M1548.9,1640.6 1557.3,1642.1 1564,1642.4 1569.1,1642 1580.9,1640 1592.7,1640.3 1602.7,1639.5 1612.8,1637.8 1622.9,1635.4 1633,1632.4 1643.1,1628.6 1651.5,1624.9 1660,1620.2 1666.7,1615.7 1673.4,1609.9 1678.5,1604.3 1683.5,1596.9 1686.9,1590.3 1690.2,1582 1693.6,1571.2 1695.3,1564.7 1698.7,1548.9 1703.7,1516.9 1707.1,1488.9 1710.4,1455.2 1715.5,1393.9 1728.9,1195.6 1732.3,1152.8 1735.7,1121.7 1737.4,1112.1 1739,1107.1 1740.7,1106.9 1742.4,1111.7 1744.1,1121.3 1745.8,1135.5 1749.1,1175.9 1752.5,1228.6 1762.6,1413 1767.6,1496.2 1772.7,1563.2 1777.7,1612.4 1781.1,1636.2 1784.5,1653.9 1787.8,1666.6 1791.2,1675.7 1792.9,1679.1 1796.2,1684.2 1797.9,1686.1 1801.3,1689.1 1804.7,1691.1 1808,1692.5 1813.1,1694.1 1818.1,1695.1" fill="none" stroke="#ff6a00" stroke-width="5.0" stroke-linejoin="round" stroke-linecap="round"/>
<path d="M1261.2,1625.6 1320.1,1625.9 1367.2,1625.3 1405.9,1623.7 1422.7,1622.5 1437.9,1621 1451.3,1619.3 1464.8,1617.1 1476.6,1614.6 1486.6,1611.7 1493.4,1609.1 1498.4,1606.3 1503.5,1602.2 1506.8,1598.4 1510.2,1593.3 1513.6,1586.4 1516.9,1577.2 1518.6,1571.5 1522,1557.8 1523.7,1549.6 1527,1530.2 1530.4,1506.7 1535.4,1464 1547.2,1343.9 1552.3,1296.8 1555.6,1272.5 1557.3,1263.2 1559,1256.3 1560.7,1251.8 1562.4,1249.9 1564,1250.7 1565.7,1254.4 1567.4,1260.7 1569.1,1269.8 1572.5,1294.9 1577.5,1346.5 1587.6,1468.4 1592.7,1523.7 1597.7,1568.8 1602.7,1602.7 1606.1,1619.5 1609.5,1632.1 1612.8,1641.4 1616.2,1648 1619.6,1652.6 1621.3,1654.4 1624.6,1656.9 1629.7,1659.2 1638.1,1661.1" fill="none" stroke="#109cf0" stroke-width="5.0" stroke-linejoin="round" stroke-linecap="round"/>
<path d="M1456.4,1631 1505.2,1630.9 1518.6,1631.5 1528.7,1632.5 1537.1,1634.4 1545.5,1637.4 1554,1641.4 1565.7,1647.8" fill="none" stroke="#f0306a" stroke-width="3.0" stroke-linejoin="round" stroke-linecap="round"/>
<path d="M1249.4,1625.4 1271.3,1623.7 1308.3,1619.1 1318.4,1618.4 1326.8,1618.4 1333.5,1618.8 1341.9,1619.9 1373.9,1626.3 1392.4,1629" fill="none" stroke="#5a66f2" stroke-width="3.5" stroke-linejoin="round" stroke-linecap="round"/>
<path d="M1402.5,1629.2 1419.3,1628.5 1432.8,1627.1 1449.6,1623.9 1474.9,1617.2 1483.3,1615.4 1490,1614.4 1495.1,1614 1500.1,1614.1 1503.5,1614.6 1506.8,1615.5 1511.9,1617.9 1525.3,1626.2 1533.8,1630.6 1552.3,1638.4 1574.1,1648.8 1584.2,1652.6 1594.3,1655.2 1604.4,1656.7 1680.1,1663.1 1697,1665.2 1708.7,1667.4 1718.8,1670.6 1727.3,1674.4 1734,1678.3 1749.1,1688.1 1755.9,1691.8 1762.6,1694.6 1771,1696.9" fill="none" stroke="#a800d8" stroke-width="4.6" stroke-linejoin="round" stroke-linecap="round"/>
<path d="M1182.1,1624.9 1333.5,1628.5 1424.4,1631.1 1491.7,1633.7 1511.9,1634.8 1523.7,1635.9 1535.4,1637.7 1545.5,1640.4 1554,1643.6 1577.5,1654 1585.9,1656.7 1594.3,1658.6 1609.5,1660.4 1654.9,1663.2 1680.1,1665.1 1695.3,1666.8 1707.1,1668.8 1717.2,1671.6 1725.6,1675.1 1732.3,1678.8 1752.5,1691.4 1757.5,1693.9 1764.3,1696.4 1772.7,1698.4 1781.1,1699.5 1792.9,1700.3 1816.4,1701.1" fill="none" stroke="#6e6e6e" stroke-width="4.6"/>
<path d="M1182.1,1624.3 1225.8,1624.8 1252.8,1624 1273,1622.1 1310,1616.7 1325.1,1615.6 1331.9,1615.7 1340.3,1616.3 1370.5,1620.9 1384,1622.2 1399.2,1622.2 1414.3,1620.8 1424.4,1618.9 1434.5,1616.3 1444.6,1612.7 1454.7,1608.2 1468.1,1601.1 1493.4,1586.5 1500.1,1581.8 1506.8,1575.9 1510.2,1571.9 1513.6,1566.4 1516.9,1559 1518.6,1554.2 1522,1542.3 1523.7,1534.9 1527,1517.1 1530.4,1494.9 1535.4,1453.7 1548.9,1318.8 1552.3,1288.4 1555.6,1263.7 1557.3,1254.2 1559,1246.9 1560.7,1242 1562.4,1239.6 1564,1239.7 1565.7,1242.6 1567.4,1248.3 1569.1,1256.4 1572.5,1279.8 1577.5,1328.8 1589.3,1466.8 1594.3,1518.1 1597.7,1546.3 1601.1,1569.5 1604.4,1587.7 1607.8,1601.6 1611.2,1611.6 1612.8,1615.5 1616.2,1621.2 1617.9,1623.2 1621.3,1626.1 1624.6,1627.6 1628,1628.2 1633,1628 1638.1,1626.9 1644.8,1624.7 1651.5,1621.9 1658.3,1618.4 1663.3,1615.4 1668.4,1611.8 1673.4,1607.4 1678.5,1601.9 1683.5,1594.6 1688.6,1584.2 1691.9,1574.8 1695.3,1562.6 1698.7,1546.8 1703.7,1514.9 1708.7,1470.9 1713.8,1413.8 1718.8,1345 1728.9,1193.9 1732.3,1151.1 1735.7,1120.1 1737.4,1110.5 1739,1105.5 1740.7,1105.3 1742.4,1110.1 1744.1,1119.8 1745.8,1134 1749.1,1174.4 1752.5,1227.1 1766,1468.7 1771,1541.6 1774.4,1580.3 1777.7,1611.2 1779.4,1623.9 1782.8,1644.5 1784.5,1652.7 1787.8,1665.5 1791.2,1674.5 1794.6,1680.8 1797.9,1685 1803,1689.1 1808,1691.5 1816.4,1693.8 1818.1,1695.3 1821.5,1695.5 1828.2,1694.8 1834.9,1696.1 1841.7,1695.7 1848.4,1698.4 1855.1,1699.8 1868.6,1701 1875.3,1700.5 1882.1,1703.9 1888.8,1701.8 1895.5,1702.8 1902.2,1703.1 1909,1704.8 1915.7,1705.5 1922.4,1710.4 1929.2,1709.1 1935.9,1706.9 1942.6,1709.9 1949.4,1709.1 1956.1,1713.3 1962.8,1714.5 1969.6,1711.9 1976.3,1713.9 1983,1712.9 1989.7,1714.2 1996.5,1716.6 2003.2,1713.5 2009.9,1712.4 2016.7,1715.8 2023.4,1715.9 2036.9,1717.5 2043.6,1715.2 2050.3,1713.5 2057,1718.6 2063.8,1716.6 2070.5,1715.5 2077.2,1715.8 2084,1719.5 2090.7,1718.1 2097.4,1718.4 2104.2,1719.3 2110.9,1717 2117.6,1716.3 2124.3,1716.8 2131.1,1716.5 2137.8,1717.8 2144.5,1716.9 2151.3,1718.4 2158,1717.6" fill="none" stroke="#00f000" stroke-width="7.6" stroke-linecap="round" stroke-dasharray="0 15.3"/>
<rect x="1182.1" y="1013.2" width="975.9" height="785.6" fill="none" stroke="#000" stroke-width="6.8"/>
<line x1="1249.4" y1="1798.8" x2="1249.4" y2="1813.8" stroke="#000" stroke-width="6.4"/>
<text x="1249.4" y="1863.1" class="tk">350</text>
<line x1="1333.5" y1="1798.8" x2="1333.5" y2="1807.3" stroke="#000" stroke-width="6.4"/>
<line x1="1417.7" y1="1798.8" x2="1417.7" y2="1813.8" stroke="#000" stroke-width="6.4"/>
<text x="1417.7" y="1863.1" class="tk">345</text>
<line x1="1501.8" y1="1798.8" x2="1501.8" y2="1807.3" stroke="#000" stroke-width="6.4"/>
<line x1="1585.9" y1="1798.8" x2="1585.9" y2="1813.8" stroke="#000" stroke-width="6.4"/>
<text x="1585.9" y="1863.1" class="tk">340</text>
<line x1="1670" y1="1798.8" x2="1670" y2="1807.3" stroke="#000" stroke-width="6.4"/>
<line x1="1754.2" y1="1798.8" x2="1754.2" y2="1813.8" stroke="#000" stroke-width="6.4"/>
<text x="1754.2" y="1863.1" class="tk">335</text>
<line x1="1838.3" y1="1798.8" x2="1838.3" y2="1807.3" stroke="#000" stroke-width="6.4"/>
<line x1="1922.4" y1="1798.8" x2="1922.4" y2="1813.8" stroke="#000" stroke-width="6.4"/>
<text x="1922.4" y="1863.1" class="tk">330</text>
<line x1="2006.6" y1="1798.8" x2="2006.6" y2="1807.3" stroke="#000" stroke-width="6.4"/>
<line x1="2090.7" y1="1798.8" x2="2090.7" y2="1813.8" stroke="#000" stroke-width="6.4"/>
<text x="2090.7" y="1863.1" class="tk">325</text>
<text x="1670.6" y="1946.8" class="xt">Binding Energy (eV)</text>
<text transform="translate(1145.1,1402.4) rotate(-90)" class="yt">Intensity (a. u.)</text>
<text x="1204.1" y="1136.2" class="pl">(d)</text>
<text x="2148.8" y="1071.4" class="pd">Pd 3d</text>
<text x="1630.1" y="1085.9" class="pk">3d<tspan class="sb" dy="12.5" dx="3">5/2</tspan></text>
<text x="1444.3" y="1231.4" class="pk">3d<tspan class="sb" dy="12.5" dx="3">3/2</tspan></text>
</g>
<g>
<path d="M313.6,2604.9 327.1,2604.6 359.1,2603.2 436.5,2602.6 451.6,2602.9 461.7,2603.8 471.8,2605.7 480.2,2608 495.4,2612.9 503.8,2615 512.2,2616 520.6,2615.8 532.4,2614.1 545.8,2610.7 562.7,2605.4 577.8,2599.5 589.6,2594.1 599.7,2588.6 606.4,2583.5 611.5,2577.6 614.8,2572 618.2,2563.9 621.6,2552.6 623.2,2545.3 626.6,2526.7 628.3,2515.1 631.6,2486.5 635,2450.3 638.4,2406.6 641.7,2356.4 650.2,2218.8 655.2,2146.8 658.6,2111.5 660.3,2098.9 661.9,2090 663.6,2085 665.3,2083.9 667,2086.5 668.7,2092.5 670.3,2101.9 672,2114.4 675.4,2148.2 680.4,2216.1 693.9,2432 700.6,2524 704,2561.3 707.4,2592.5 710.7,2617.8 712.4,2628.4 715.8,2645.9 719.1,2659.2 720.8,2664.5 724.2,2672.8 725.9,2676.1 729.2,2681.1 732.6,2684.5 736,2686.9 739.3,2688.5 742.7,2689.5 747.7,2690.5 752.8,2691.1 769.6,2692.2 803.3,2693.4 L803.3,2694 724.2,2691.9 710.7,2690.9 700.6,2689.2 692.2,2686.6 683.8,2682.6 675.4,2677.3 658.6,2664.8 651.8,2660.3 645.1,2656.7 636.7,2653.5 626.6,2651.2 611.5,2649.1 581.2,2646.2 535.7,2642.7 525.6,2641.6 518.9,2640.4 510.5,2638.2 502.1,2635.1 480.2,2624.1 470.1,2619.7 461.7,2617 451.6,2614.7 433.1,2612.3 404.5,2610.1 360.8,2607.5 313.6,2605.5 Z" fill="url(#gOr)" stroke="none"/>
<path d="M105,2597 180.7,2597.1 241.3,2596.3 291.8,2594.5 315.3,2593 335.5,2591.4 354,2589.5 370.8,2587.2 386,2584.5 397.8,2581.8 407.9,2578.7 414.6,2576 421.3,2572.1 426.4,2567.9 429.7,2564 433.1,2559 436.5,2552.5 439.8,2544.1 444.9,2526.8 449.9,2502.6 455,2470.7 460,2430.9 473.5,2303 478.5,2260.4 481.9,2239.3 483.6,2231.8 485.3,2226.7 486.9,2224.1 488.6,2224.2 490.3,2227.1 492,2232.8 493.7,2241.3 497,2265.5 502.1,2316.5 513.9,2460.1 518.9,2514.2 524,2557.7 527.3,2580.3 530.7,2598.1 534.1,2611.7 537.4,2621.8 540.8,2629 542.5,2631.8 545.8,2636 547.5,2637.5 550.9,2639.9 555.9,2642.1 562.7,2643.6 574.4,2645 L574.4,2645.6 534.1,2642.6 525.6,2641.6 517.2,2640.1 508.8,2637.7 502.1,2635.1 478.5,2623.3 466.8,2618.5 460,2616.5 451.6,2614.7 433.1,2612.3 412.9,2610.6 386,2608.9 322.1,2605.8 231.2,2602.8 105,2599.4 Z" fill="url(#gBl)" stroke="none"/>
<path d="M323.7,2605.3 340.6,2605.2 355.7,2604.7 397.8,2602 409.5,2601.5 424.7,2601.7 431.4,2602.1 436.5,2602.9 444.9,2605.4 456.7,2610.2 475.2,2618.8 500.4,2632.2 508.8,2635.7 517.2,2638.1 525.6,2639.8 534.1,2640.9 584.5,2645.2 613.1,2648.2 628.3,2650.5 638.4,2653.1 646.8,2656.7 653.5,2660.5 675.4,2676.6 683.8,2682 688.9,2684.5 693.9,2686.6 704,2689.3 L704,2689.9 693.9,2687.2 685.5,2683.5 677.1,2678.5 658.6,2664.8 650.2,2659.3 641.7,2655.3 636.7,2653.5 631.6,2652.2 621.6,2650.4 606.4,2648.5 579.5,2646.1 535.7,2642.7 525.6,2641.6 518.9,2640.4 510.5,2638.2 502.1,2635.1 480.2,2624.1 470.1,2619.7 458.3,2616.1 446.6,2613.9 429.7,2612 401.1,2609.8 364.1,2607.7 323.7,2605.9 Z" fill="url(#gMg)" stroke="none"/>
<path d="M168.9,2600.4 192.5,2599.5 232.9,2596.5 249.7,2596.3 264.8,2597.6 298.5,2602.8 318.7,2605.1 L318.7,2605.7 253.1,2603.4 168.9,2601 Z" fill="url(#gMg)" stroke="none"/>
<path d="M586.2,2646 624.9,2648.3 633.3,2649.3 640.1,2650.5 646.8,2652.6 653.5,2655.4 672,2665.5 678.8,2668.6 687.2,2671.3 693.9,2672.3 702.3,2672.2 710.7,2670.9 719.1,2669.1 749.4,2661.3 759.5,2659.2 767.9,2657.9 778,2656.9 786.4,2656.6 794.9,2656.9 803.3,2657.7 815.1,2659.8 828.5,2663.3 842,2667.7 880.7,2681.4 894.1,2685.5 907.6,2688.8 922.7,2691.8 939.6,2694.3 958.1,2696.1 978.3,2697.3 L978.3,2697.9 741,2692.5 720.8,2691.7 709,2690.7 702.3,2689.5 697.3,2688.3 690.5,2685.9 685.5,2683.5 675.4,2677.3 653.5,2661.4 646.8,2657.5 640.1,2654.6 631.6,2652.2 621.6,2650.4 606.4,2648.5 586.2,2646.6 Z" fill="url(#gPk)" stroke="none"/>
<path d="M105,2597.7 111.7,2596.5 118.5,2601 125.2,2596.7 131.9,2597.3 138.7,2599.6 145.4,2595.6 152.1,2596 158.8,2597.1 165.6,2596.1 172.3,2594.5 179,2595.7 185.8,2594.9 192.5,2595.9 199.2,2591.5 206,2592.3 212.7,2594.4 219.4,2594.7 226.1,2588.5 232.9,2591.2 239.6,2588 253.1,2587.5 259.8,2588.1 266.5,2590.2 273.3,2589.4 286.7,2586.1 298.5,2585.6 300.2,2585.5 306.9,2587.4 313.6,2585.9 320.4,2587.6 325.4,2587.6 332.1,2587.1 340.6,2585.8 347.3,2583.4 354,2582.8 360.8,2578.1 367.5,2578.8 374.2,2574 380.9,2572 387.7,2571 391,2570.1 394.4,2569.1 401.1,2566.2 407.9,2564.6 414.6,2560.5 421.3,2554.6 426.4,2548.7 431.4,2541.8 436.5,2533.2 439.8,2526 441.5,2521.6 443.2,2515.5 448.2,2493 453.3,2462.6 460,2411.9 465.1,2365.7 475.2,2266.3 478.5,2236.8 481.9,2214 483.6,2206.1 485.3,2200.8 486.9,2198.2 488.6,2198.5 490.3,2201.6 492,2207.5 493.7,2216.3 495.4,2227.5 498.7,2256.8 502.1,2292.7 513.9,2435.7 518.9,2488.3 524,2529.4 527.3,2550.6 532.4,2575.1 535.7,2586.9 539.1,2593.9 544.2,2600.6 545.8,2602.4 549.2,2605 550.9,2605 555.9,2603.7 562.7,2598 569.4,2601.7 576.1,2594.9 582.9,2597.5 589.6,2594.7 596.3,2587.5 606.4,2578.7 609.8,2574.8 613.1,2571.6 614.8,2569.3 616.5,2566.5 619.9,2555.9 621.6,2549.2 624.9,2532.5 628.3,2510.3 630,2496.6 635,2445.1 640.1,2377.2 643.4,2324 651.8,2177.7 656.9,2105.1 660.3,2071.7 661.9,2061 663.6,2054.6 665.3,2052.8 667,2055.2 668.7,2061.8 670.3,2072.2 672,2086.2 675.4,2123.6 680.4,2196.3 693.9,2415.3 699,2484.8 704,2541.6 709,2586.8 710.7,2598.9 712.4,2608.4 715.8,2623.6 719.1,2635.3 720.8,2640.3 724.2,2647.9 727.6,2652.4 729.2,2653.9 732.6,2656.1 744.4,2660.5 751.1,2657.9 757.8,2656.9 764.6,2657.5 771.3,2656.8 778,2656.9 784.8,2655.7 791.5,2652.8 798.2,2657.1 805,2657.8 811.7,2659.8 818.4,2658.4 825.1,2665.6 831.9,2661.7 838.6,2667.1 852.1,2669.9 858.8,2674.5 865.5,2675.2 872.3,2674.3 879,2678.5 892.5,2688.1 899.2,2684 912.6,2691.9 921.1,2691.8 932.8,2690.8 939.6,2691.1 946.3,2693.5 953,2694.8 959.8,2692.3 966.5,2693.7 973.2,2697.3 979.9,2696.5 986.7,2696.2 993.4,2697.1 1000.1,2696.7 1006.9,2699.7 1013.6,2701 1020.3,2701.9 1027.1,2699.9 1033.8,2700.1 1040.5,2701.5 1047.2,2702.1 1060.7,2701.5 1067.4,2698.7 1074.2,2697.4 1080.9,2701.5" fill="none" stroke="#7400f4" stroke-width="5" stroke-linejoin="round"/>
<path d="M323.7,2604.7 359.1,2603.2 436.5,2602.6 451.6,2602.9 461.7,2603.8 471.8,2605.7 480.2,2608 495.4,2612.9 503.8,2615 512.2,2616 522.3,2615.6 534.1,2613.7 547.5,2610.2 562.7,2605.4 577.8,2599.5 589.6,2594.1 599.7,2588.6 606.4,2583.5 611.5,2577.6 614.8,2572 618.2,2563.9 621.6,2552.6 623.2,2545.3 626.6,2526.7 628.3,2515.1 631.6,2486.5 635,2450.3 638.4,2406.6 641.7,2356.4 650.2,2218.8 655.2,2146.8 658.6,2111.5 660.3,2098.9 661.9,2090 663.6,2085 665.3,2083.9 667,2086.5 668.7,2092.5 670.3,2101.9 672,2114.4 675.4,2148.2 680.4,2216.1 692.2,2406.1 699,2503.1 702.3,2543.4 705.7,2577.7 709,2605.8 712.4,2628.4 715.8,2645.9 717.5,2653 720.8,2664.5 724.2,2672.8 725.9,2676.1 729.2,2681.1 730.9,2683 734.3,2685.8 737.7,2687.8 741,2689.1 749.4,2690.8 762.9,2691.8" fill="none" stroke="#ff6a00" stroke-width="5.0" stroke-linejoin="round" stroke-linecap="round"/>
<path d="M105,2597 180.7,2597.1 241.3,2596.3 291.8,2594.5 315.3,2593 335.5,2591.4 354,2589.5 370.8,2587.2 386,2584.5 397.8,2581.8 407.9,2578.7 414.6,2576 421.3,2572.1 426.4,2567.9 429.7,2564 433.1,2559 436.5,2552.5 439.8,2544.1 444.9,2526.8 449.9,2502.6 455,2470.7 460,2430.9 473.5,2303 478.5,2260.4 481.9,2239.3 483.6,2231.8 485.3,2226.7 486.9,2224.1 488.6,2224.2 490.3,2227.1 492,2232.8 493.7,2241.3 495.4,2252.2 498.7,2280.9 502.1,2316.5 512.2,2440.2 517.2,2497.3 522.3,2544.5 527.3,2580.3 530.7,2598.1 534.1,2611.7 537.4,2621.8 540.8,2629 544.2,2634.1 545.8,2636 549.2,2638.8 554.3,2641.5 557.6,2642.5 562.7,2643.6" fill="none" stroke="#109cf0" stroke-width="5.0" stroke-linejoin="round" stroke-linecap="round"/>
<path d="M179,2600.1 195.9,2599.3 231.2,2596.6 249.7,2596.3 264.8,2597.6 295.1,2602.4 310.3,2604.3" fill="none" stroke="#5a66f2" stroke-width="3.5" stroke-linejoin="round" stroke-linecap="round"/>
<path d="M337.2,2605.2 360.8,2604.5 407.9,2601.5 423,2601.6 434.8,2602.6 443.2,2604.8 456.7,2610.2 475.2,2618.8 500.4,2632.2 507.1,2635 513.9,2637.3 522.3,2639.2 532.4,2640.7 591.3,2645.9" fill="none" stroke="#a800d8" stroke-width="4.6" stroke-linejoin="round" stroke-linecap="round"/>
<path d="M601.4,2646.9 628.3,2648.6 635,2649.5 641.7,2651 646.8,2652.6 653.5,2655.4 672,2665.5 678.8,2668.6 687.2,2671.3 693.9,2672.3 702.3,2672.2 710.7,2670.9 719.1,2669.1 749.4,2661.3 759.5,2659.2 767.9,2657.9 778,2656.9 786.4,2656.6 794.9,2656.9 803.3,2657.7 815.1,2659.8 828.5,2663.3 842,2667.7 879,2680.9 892.5,2685 904.2,2688.1 917.7,2690.9 931.1,2693.2 946.3,2695 963.1,2696.4" fill="none" stroke="#ff1478" stroke-width="4.6" stroke-linejoin="round" stroke-linecap="round"/>
<path d="M105,2599.4 241.3,2603.1 335.5,2606.4 372.5,2608.1 406.2,2610.2 431.4,2612.1 446.6,2613.9 458.3,2616.1 470.1,2619.7 480.2,2624.1 502.1,2635.1 510.5,2638.2 518.9,2640.4 525.6,2641.6 535.7,2642.7 581.2,2646.2 611.5,2649.1 626.6,2651.2 636.7,2653.5 645.1,2656.7 651.8,2660.3 658.6,2664.8 677.1,2678.5 682.1,2681.7 687.2,2684.4 692.2,2686.6 699,2688.7 705.7,2690.2 712.4,2691.1 725.9,2692 749.4,2692.7 1080.9,2700.2" fill="none" stroke="#6e6e6e" stroke-width="4.6"/>
<path d="M105,2597 148.7,2597 175.7,2596.2 195.9,2594.6 232.9,2590.2 249.7,2589.1 263.2,2589.3 288.4,2591.2 300.2,2591.7 312,2591.4 323.7,2590.2 335.5,2588 349,2584.6 369.2,2578.7 384.3,2573.3 397.8,2567.6 409.5,2561.7 418,2556.4 424.7,2550.7 429.7,2544.7 433.1,2539.4 436.5,2532.8 439.8,2524.4 444.9,2507.5 449.9,2483.9 455,2452.5 460,2413.1 465.1,2367 473.5,2284.9 478.5,2241.8 481.9,2220.3 483.6,2212.6 485.3,2207.2 486.9,2204.4 488.6,2204.2 490.3,2206.8 492,2212.2 493.7,2220.3 495.4,2231 498.7,2259 503.8,2313.3 515.6,2453.6 518.9,2487.8 522.3,2517.2 527.3,2551.6 530.7,2568.5 534.1,2581.1 537.4,2590.1 539.1,2593.5 542.5,2598.4 544.2,2600.2 547.5,2602.4 550.9,2603.6 554.3,2603.9 559.3,2603.3 564.3,2602.1 572.8,2599.2 581.2,2595.8 589.6,2591.8 596.3,2588.1 601.4,2584.9 606.4,2580.7 611.5,2574.7 614.8,2568.8 618.2,2560.6 619.9,2555.3 623.2,2541.7 624.9,2532.9 628.3,2511 630,2497.5 633.3,2464.9 638.4,2401.7 641.7,2351 650.2,2212.3 655.2,2139.6 658.6,2103.8 660.3,2090.9 661.9,2081.7 663.6,2076.4 665.3,2074.9 667,2077.2 668.7,2082.9 670.3,2091.9 673.7,2119.3 677.1,2157.5 682.1,2229.3 695.6,2440.8 700.6,2506.4 704,2542.7 709,2585.7 710.7,2597.1 714.1,2616 715.8,2623.7 719.1,2635.9 722.5,2644.7 725.9,2650.8 729.2,2654.7 732.6,2657.2 736,2658.6 739.3,2659.2 746.1,2659.1 769.6,2656.2 783.1,2655.4 796.5,2655.9 803.3,2656.7 811.7,2658.2 821.8,2660.6 833.6,2664.2 873.9,2678.6 892.5,2684.5 912.6,2689.5 932.8,2693.1 954.7,2695.5 981.6,2697.2 1017,2698.5 1080.9,2700.1" fill="none" stroke="#00f000" stroke-width="7.6" stroke-linecap="round" stroke-dasharray="0 15.3"/>
<rect x="105" y="1970.4" width="975.9" height="786.5" fill="none" stroke="#000" stroke-width="6.8"/>
<line x1="172.3" y1="2756.9" x2="172.3" y2="2771.9" stroke="#000" stroke-width="6.4"/>
<text x="172.3" y="2821.2" class="tk">350</text>
<line x1="256.4" y1="2756.9" x2="256.4" y2="2765.4" stroke="#000" stroke-width="6.4"/>
<line x1="340.6" y1="2756.9" x2="340.6" y2="2771.9" stroke="#000" stroke-width="6.4"/>
<text x="340.6" y="2821.2" class="tk">345</text>
<line x1="424.7" y1="2756.9" x2="424.7" y2="2765.4" stroke="#000" stroke-width="6.4"/>
<line x1="508.8" y1="2756.9" x2="508.8" y2="2771.9" stroke="#000" stroke-width="6.4"/>
<text x="508.8" y="2821.2" class="tk">340</text>
<line x1="593" y1="2756.9" x2="593" y2="2765.4" stroke="#000" stroke-width="6.4"/>
<line x1="677.1" y1="2756.9" x2="677.1" y2="2771.9" stroke="#000" stroke-width="6.4"/>
<text x="677.1" y="2821.2" class="tk">335</text>
<line x1="761.2" y1="2756.9" x2="761.2" y2="2765.4" stroke="#000" stroke-width="6.4"/>
<line x1="845.3" y1="2756.9" x2="845.3" y2="2771.9" stroke="#000" stroke-width="6.4"/>
<text x="845.3" y="2821.2" class="tk">330</text>
<line x1="929.5" y1="2756.9" x2="929.5" y2="2765.4" stroke="#000" stroke-width="6.4"/>
<line x1="1013.6" y1="2756.9" x2="1013.6" y2="2771.9" stroke="#000" stroke-width="6.4"/>
<text x="1013.6" y="2821.2" class="tk">325</text>
<text x="593.6" y="2904.9" class="xt">Binding Energy (eV)</text>
<text transform="translate(68,2359.6) rotate(-90)" class="yt">Intensity (a. u.)</text>
<text x="130.8" y="2091.7" class="pl">(e)</text>
<text x="1071.7" y="2028.6" class="pd">Pd 3d</text>
<text x="531.7" y="2054.1" class="pk">3d<tspan class="sb" dy="12.5" dx="3">5/2</tspan></text>
<text x="383.4" y="2176.1" class="pk">3d<tspan class="sb" dy="12.5" dx="3">3/2</tspan></text>
</g>
<g>
<path d="M1548.9,2603 1560.7,2606.3 1567.4,2607.8 1574.1,2608.6 1580.9,2608.5 1594.3,2606.9 1606.1,2606 1614.5,2604.6 1628,2601.1 1639.8,2596.7 1648.2,2592.5 1654.9,2588.3 1661.6,2583.1 1668.4,2576.5 1673.4,2570.2 1678.5,2562.3 1683.5,2552.2 1686.9,2543.8 1690.2,2533.8 1693.6,2521.8 1698.7,2499.1 1703.7,2469.6 1708.7,2431.9 1713.8,2384.8 1718.8,2328.2 1734,2129.6 1737.4,2096.4 1739,2084.5 1740.7,2076.5 1742.4,2072.6 1744.1,2073.2 1745.8,2078.2 1747.4,2087.5 1749.1,2101 1752.5,2139 1757.5,2217.1 1769.3,2427.9 1774.4,2503.9 1777.7,2545.4 1781.1,2579.1 1784.5,2605.7 1787.8,2625.8 1791.2,2640.5 1794.6,2651 1796.2,2655 1799.6,2660.9 1801.3,2663.1 1804.7,2666.4 1808,2668.5 1811.4,2669.9 1819.8,2671.7 1833.3,2673 1860.2,2674.6 1900.6,2676.3 L1900.6,2676.9 1799.6,2673.6 1786.1,2672.7 1776.1,2671.2 1767.6,2668.7 1760.9,2665.7 1752.5,2660.5 1737.4,2649.2 1728.9,2643.6 1720.5,2639.2 1710.4,2635.5 1697,2632.3 1680.1,2629.8 1656.6,2627.6 1611.2,2624.3 1602.7,2623.3 1596,2622.2 1587.6,2620 1580.9,2617.7 1559,2607.7 1548.9,2603.6 Z" fill="url(#gOr)" stroke="none"/>
<path d="M1182.1,2581.5 1262.9,2583 1323.4,2583.2 1370.5,2582.2 1390.7,2581.1 1407.6,2579.8 1422.7,2578.2 1437.9,2575.9 1451.3,2573.2 1463.1,2570 1473.2,2566.4 1483.3,2561.7 1490,2557.5 1496.7,2552.1 1501.8,2546.7 1505.2,2542.2 1510.2,2533.6 1513.6,2526.2 1516.9,2517.2 1520.3,2506.3 1523.7,2493.1 1527,2477.4 1532.1,2448.7 1538.8,2400.7 1543.9,2358.5 1552.3,2283.5 1557.3,2243.6 1560.7,2223.7 1562.4,2216.6 1564,2211.9 1565.7,2209.6 1567.4,2209.9 1569.1,2213 1570.8,2218.9 1572.5,2227.6 1575.8,2252.2 1580.9,2303.7 1591,2427.2 1596,2483.6 1601.1,2530 1604.4,2554.5 1607.8,2574.1 1611.2,2589.1 1614.5,2600.4 1617.9,2608.6 1619.6,2611.7 1622.9,2616.5 1624.6,2618.3 1628,2620.9 1633,2623.4 1639.8,2625.1 1651.5,2626.6 L1651.5,2627.2 1611.2,2624.3 1602.7,2623.3 1594.3,2621.8 1587.6,2620 1580.9,2617.7 1555.6,2606.2 1543.9,2602 1537.1,2600.2 1528.7,2598.5 1508.5,2596 1468.1,2593.1 1407.6,2590.3 1320.1,2587.1 1182.1,2582.7 Z" fill="url(#gBl)" stroke="none"/>
<path d="M1385.7,2588.8 1414.3,2588.8 1424.4,2588.3 1434.5,2587.3 1442.9,2586.1 1453,2583.9 1479.9,2576.6 1488.3,2574.7 1498.4,2573.5 1506.8,2573.9 1510.2,2574.8 1515.3,2577.2 1520.3,2580.5 1532.1,2589.1 1540.5,2594.1 1559,2602.8 1575.8,2611.2 1585.9,2615.4 1596,2618.3 1606.1,2620.2 1617.9,2621.5 1658.3,2625.1 1676.8,2627.1 1695.3,2629.9 1708.7,2633.1 1717.2,2636 1725.6,2639.9 1734,2645.1 1750.8,2657.7 1757.5,2662.3 1766,2666.6 1774.4,2669.4 1784.5,2671.3 1799.6,2672.5 1907.3,2676.5 L1907.3,2677.1 1803,2673.8 1789.5,2673 1779.4,2671.8 1774.4,2670.8 1769.3,2669.3 1764.3,2667.3 1759.2,2664.7 1750.8,2659.3 1734,2646.8 1723.9,2640.8 1713.8,2636.6 1707.1,2634.6 1700.3,2633 1688.6,2630.9 1673.4,2629.1 1651.5,2627.2 1612.8,2624.5 1604.4,2623.6 1596,2622.2 1587.6,2620 1580.9,2617.7 1557.3,2606.9 1547.2,2603.1 1535.4,2599.8 1522,2597.5 1501.8,2595.4 1473.2,2593.4 1434.5,2591.4 1385.7,2589.4 Z" fill="url(#gMg)" stroke="none"/>
<path d="M1235.9,2583.8 1252.8,2583.1 1267.9,2581.4 1281.4,2578.7 1306.6,2572 1315,2570.1 1325.1,2568.7 1333.5,2568.6 1341.9,2569.5 1350.4,2571.7 1377.3,2581.9 1389.1,2585.6 1400.8,2588.1 1416,2590 L1416,2590.6 1343.6,2587.9 1235.9,2584.4 Z" fill="url(#gMg)" stroke="none"/>
<path d="M1649.9,2626.4 1693.6,2628.9 1705.4,2630 1713.8,2631.4 1722.2,2633.5 1728.9,2635.8 1735.7,2638.8 1749.1,2645.6 1755.9,2648.4 1762.6,2650.2 1769.3,2650.8 1776.1,2650.4 1784.5,2648.9 1821.5,2638 1831.6,2635.5 1840,2633.9 1850.1,2632.5 1858.5,2631.9 1868.6,2631.9 1877,2632.7 1883.7,2633.9 1890.5,2635.5 1903.9,2639.9 1915.7,2644.6 1952.7,2661 1964.5,2665.5 1976.3,2669.3 1988.1,2672.5 2001.5,2675.4 2016.7,2677.7 2031.8,2679.3 L2031.8,2680.8 1814.8,2674.2 1794.6,2673.4 1782.8,2672.3 1776.1,2671.2 1771,2669.8 1766,2668 1760.9,2665.7 1752.5,2660.5 1737.4,2649.2 1730.6,2644.6 1722.2,2640 1713.8,2636.6 1703.7,2633.7 1690.2,2631.2 1673.4,2629.1 1649.9,2627.1 Z" fill="url(#gPk)" stroke="none"/>
<path d="M1182.1,2580.5 1188.8,2583.8 1195.6,2582.4 1202.3,2579.1 1209,2574.5 1215.8,2584.7 1222.5,2585.4 1229.2,2577.5 1235.9,2586.8 1242.7,2580.3 1249.4,2589.1 1256.1,2582.4 1262.9,2578.7 1269.6,2582.2 1276.3,2577.3 1288.1,2573.8 1296.5,2570.2 1303.2,2570 1310,2568.1 1316.7,2564.3 1323.4,2566.7 1330.2,2555.5 1336.9,2557.2 1343.6,2560.8 1350.4,2555.4 1357.1,2565 1370.5,2563.7 1377.3,2568.1 1390.7,2565.8 1397.5,2573.9 1404.2,2574.2 1410.9,2570.5 1417.7,2567.6 1424.4,2557.7 1431.1,2557.7 1437.9,2555.5 1442.9,2555 1444.6,2554.9 1451.3,2555.7 1458,2546.8 1464.8,2541.8 1471.5,2542.3 1485,2526.9 1491.7,2530.6 1498.4,2519.5 1501.8,2516.7 1505.2,2513.2 1511.9,2501.6 1515.3,2497.1 1516.9,2494.4 1518.6,2491.1 1520.3,2486.9 1525.3,2470.8 1528.7,2453.6 1533.8,2423.8 1538.8,2390.1 1555.6,2247.6 1559,2223.3 1560.7,2213.5 1562.4,2205.8 1564,2200.5 1565.7,2197.7 1567.4,2197.8 1569.1,2200.8 1570.8,2206.6 1572.5,2215.1 1575.8,2239.4 1580.9,2289.9 1591,2407.3 1597.7,2477.9 1601.1,2507.4 1604.4,2532 1606.1,2542.4 1609.5,2557.9 1612.8,2569.1 1614.5,2572.6 1616.2,2575.4 1617.9,2577.4 1619.6,2578.8 1622.9,2584.1 1626.3,2587.9 1629.7,2586.6 1639.8,2580.4 1646.5,2585.6 1653.2,2585.3 1660,2579.9 1665,2578.3 1666.7,2577.5 1668.4,2576 1673.4,2570.6 1676.8,2563.5 1683.5,2546.9 1691.9,2522.2 1693.6,2516.3 1697,2499.5 1705.4,2450.5 1707.1,2438.7 1710.4,2410 1717.2,2339.6 1723.9,2253 1732.3,2132 1735.7,2091.9 1739,2063.8 1740.7,2055.3 1742.4,2050.6 1744.1,2050.6 1745.8,2055.2 1747.4,2064.3 1749.1,2078 1752.5,2117 1757.5,2196.4 1771,2433.6 1774.4,2484.2 1777.7,2522.7 1782.8,2567.6 1784.5,2580.3 1787.8,2601.1 1791.2,2613 1792.9,2617.3 1797.9,2626.9 1799.6,2629.1 1803,2632.5 1804.7,2633.8 1808,2635.6 1814.8,2641.1 1821.5,2636.6 1828.2,2633.2 1834.9,2637.1 1841.7,2631.2 1848.4,2629.6 1855.1,2627.1 1861.9,2630.4 1868.6,2630.5 1875.3,2628.8 1882.1,2626.3 1888.8,2633.2 1895.5,2636 1909,2637.8 1915.7,2640.3 1922.4,2645.1 1929.2,2653.7 1935.9,2653.2 1942.6,2650.9 1949.4,2660.6 1956.1,2660.1 1962.8,2671.1 1969.6,2665.5 1983,2671.1 1989.7,2673.1 1996.5,2673.9 2003.2,2675.2 2016.7,2675.5 2023.4,2676.9 2030.1,2675.1 2036.9,2678.1 2043.6,2678.8 2050.3,2680.5 2057,2681.4 2063.8,2683 2070.5,2685.2 2077.2,2683.3 2084,2684.8 2090.7,2685.6 2097.4,2684.1 2104.2,2684.9 2110.9,2686.6 2117.6,2680.6 2124.3,2687.8 2131.1,2684.6 2137.8,2675 2144.5,2687.8 2151.3,2682.6 2158,2688.9" fill="none" stroke="#7400f4" stroke-width="5" stroke-linejoin="round"/>
<path d="M1554,2604.5 1562.4,2606.7 1569.1,2608.1 1575.8,2608.7 1582.6,2608.4 1594.3,2606.9 1606.1,2606 1616.2,2604.2 1629.7,2600.6 1641.4,2595.9 1649.9,2591.6 1656.6,2587.2 1663.3,2581.6 1668.4,2576.5 1673.4,2570.2 1678.5,2562.3 1683.5,2552.2 1686.9,2543.8 1690.2,2533.8 1693.6,2521.8 1698.7,2499.1 1703.7,2469.6 1708.7,2431.9 1713.8,2384.8 1718.8,2328.2 1734,2129.6 1737.4,2096.4 1739,2084.5 1740.7,2076.5 1742.4,2072.6 1744.1,2073.2 1745.8,2078.2 1747.4,2087.5 1749.1,2101 1750.8,2118.3 1752.5,2139 1755.9,2188.9 1767.6,2399.4 1771,2454.9 1774.4,2503.9 1777.7,2545.4 1781.1,2579.1 1784.5,2605.7 1787.8,2625.8 1791.2,2640.5 1794.6,2651 1796.2,2655 1799.6,2660.9 1801.3,2663.1 1804.7,2666.4 1809.7,2669.3 1813.1,2670.4 1818.1,2671.5 1831.6,2672.9 1855.1,2674.3" fill="none" stroke="#ff6a00" stroke-width="5.0" stroke-linejoin="round" stroke-linecap="round"/>
<path d="M1182.1,2581.5 1262.9,2583 1323.4,2583.2 1370.5,2582.2 1390.7,2581.1 1407.6,2579.8 1422.7,2578.2 1437.9,2575.9 1451.3,2573.2 1463.1,2570 1473.2,2566.4 1483.3,2561.7 1490,2557.5 1496.7,2552.1 1501.8,2546.7 1505.2,2542.2 1510.2,2533.6 1513.6,2526.2 1516.9,2517.2 1520.3,2506.3 1523.7,2493.1 1527,2477.4 1532.1,2448.7 1538.8,2400.7 1543.9,2358.5 1552.3,2283.5 1557.3,2243.6 1560.7,2223.7 1562.4,2216.6 1564,2211.9 1565.7,2209.6 1567.4,2209.9 1569.1,2213 1570.8,2218.9 1572.5,2227.6 1575.8,2252.2 1580.9,2303.7 1591,2427.2 1596,2483.6 1601.1,2530 1606.1,2564.9 1609.5,2582.1 1612.8,2595.2 1616.2,2604.8 1619.6,2611.7 1622.9,2616.5 1624.6,2618.3 1628,2620.9 1633,2623.4 1636.4,2624.4 1641.4,2625.4" fill="none" stroke="#109cf0" stroke-width="5.0" stroke-linejoin="round" stroke-linecap="round"/>
<path d="M1459.7,2591.5 1505.2,2592.3 1518.6,2593.2 1530.4,2594.8 1538.8,2596.8 1547.2,2599.8 1555.6,2603.9 1569.1,2611.3" fill="none" stroke="#f0306a" stroke-width="3.0" stroke-linejoin="round" stroke-linecap="round"/>
<path d="M1246,2583.5 1257.8,2582.7 1269.6,2581.1 1283.1,2578.3 1304.9,2572.5 1315,2570.1 1325.1,2568.7 1333.5,2568.6 1341.9,2569.5 1350.4,2571.7 1375.6,2581.3 1387.4,2585.1 1397.5,2587.5 1407.6,2589.1" fill="none" stroke="#5a66f2" stroke-width="3.5" stroke-linejoin="round" stroke-linecap="round"/>
<path d="M1404.2,2589 1422.7,2588.4 1437.9,2586.9 1453,2583.9 1479.9,2576.6 1488.3,2574.7 1498.4,2573.5 1506.8,2573.9 1510.2,2574.8 1515.3,2577.2 1520.3,2580.5 1532.1,2589.1 1540.5,2594.1 1559,2602.8 1575.8,2611.2 1587.6,2616 1596,2618.3 1606.1,2620.2 1617.9,2621.5 1658.3,2625.1 1676.8,2627.1 1693.6,2629.6 1707.1,2632.6 1717.2,2636 1727.3,2640.9 1735.7,2646.3 1754.2,2660.1 1759.2,2663.3 1764.3,2665.9 1769.3,2667.9 1776.1,2669.8 1782.8,2671.1 1792.9,2672.1" fill="none" stroke="#a800d8" stroke-width="4.6" stroke-linejoin="round" stroke-linecap="round"/>
<path d="M1666.7,2627.3 1698.7,2629.3 1708.7,2630.5 1717.2,2632.1 1723.9,2634 1730.6,2636.5 1749.1,2645.6 1755.9,2648.4 1762.6,2650.2 1769.3,2650.8 1776.1,2650.4 1784.5,2648.9 1821.5,2638 1831.6,2635.5 1840,2633.9 1850.1,2632.5 1858.5,2631.9 1868.6,2631.9 1877,2632.7 1883.7,2633.9 1890.5,2635.5 1903.9,2639.9 1915.7,2644.6 1952.7,2661 1964.5,2665.5 1976.3,2669.3 1989.7,2672.9 2003.2,2675.7 2016.7,2677.7 2033.5,2679.6" fill="none" stroke="#ff1478" stroke-width="4.6" stroke-linejoin="round" stroke-linecap="round"/>
<path d="M1182.1,2582.7 1326.8,2587.3 1417.7,2590.7 1478.2,2593.7 1500.1,2595.3 1516.9,2596.9 1532.1,2599.2 1545.5,2602.5 1557.3,2606.9 1580.9,2617.7 1587.6,2620 1596,2622.2 1602.7,2623.3 1611.2,2624.3 1654.9,2627.4 1678.5,2629.6 1695.3,2632 1708.7,2635 1718.8,2638.5 1723.9,2640.8 1728.9,2643.6 1737.4,2649.2 1752.5,2660.5 1760.9,2665.7 1769.3,2669.3 1774.4,2670.8 1779.4,2671.8 1791.2,2673.2 1809.7,2674 2031.8,2680.8" fill="none" stroke="#6e6e6e" stroke-width="4.6"/>
<rect x="1182.1" y="1970.4" width="975.9" height="786.5" fill="none" stroke="#000" stroke-width="6.8"/>
<line x1="1249.4" y1="2756.9" x2="1249.4" y2="2771.9" stroke="#000" stroke-width="6.4"/>
<text x="1249.4" y="2821.2" class="tk">350</text>
<line x1="1333.5" y1="2756.9" x2="1333.5" y2="2765.4" stroke="#000" stroke-width="6.4"/>
<line x1="1417.7" y1="2756.9" x2="1417.7" y2="2771.9" stroke="#000" stroke-width="6.4"/>
<text x="1417.7" y="2821.2" class="tk">345</text>
<line x1="1501.8" y1="2756.9" x2="1501.8" y2="2765.4" stroke="#000" stroke-width="6.4"/>
<line x1="1585.9" y1="2756.9" x2="1585.9" y2="2771.9" stroke="#000" stroke-width="6.4"/>
<text x="1585.9" y="2821.2" class="tk">340</text>
<line x1="1670" y1="2756.9" x2="1670" y2="2765.4" stroke="#000" stroke-width="6.4"/>
<line x1="1754.2" y1="2756.9" x2="1754.2" y2="2771.9" stroke="#000" stroke-width="6.4"/>
<text x="1754.2" y="2821.2" class="tk">335</text>
<line x1="1838.3" y1="2756.9" x2="1838.3" y2="2765.4" stroke="#000" stroke-width="6.4"/>
<line x1="1922.4" y1="2756.9" x2="1922.4" y2="2771.9" stroke="#000" stroke-width="6.4"/>
<text x="1922.4" y="2821.2" class="tk">330</text>
<line x1="2006.6" y1="2756.9" x2="2006.6" y2="2765.4" stroke="#000" stroke-width="6.4"/>
<line x1="2090.7" y1="2756.9" x2="2090.7" y2="2771.9" stroke="#000" stroke-width="6.4"/>
<text x="2090.7" y="2821.2" class="tk">325</text>
<text x="1670.6" y="2904.9" class="xt">Binding Energy (eV)</text>
<text transform="translate(1145.1,2359.6) rotate(-90)" class="yt">Intensity (a. u.)</text>
<text x="1204.1" y="2091.7" class="pl">(f)</text>
<text x="2148.8" y="2028.6" class="pd">Pd 3d</text>
<text x="1627.9" y="2056.7" class="pk">3d<tspan class="sb" dy="12.5" dx="3">5/2</tspan></text>
<text x="1452.1" y="2189.2" class="pk">3d<tspan class="sb" dy="12.5" dx="3">3/2</tspan></text>
</g>
<text x="177.3" y="513.6" class="lf">loss feature</text>
<line x1="297.8" y1="528.2" x2="281.2" y2="629.5" stroke="#4a5cf6" stroke-width="4.2"/><polygon points="275.4,665 271.2,625.8 291.9,629.2" fill="#4a5cf6"/>
<line x1="303.9" y1="521.5" x2="410.9" y2="643.9" stroke="#a800d2" stroke-width="4.2"/><polygon points="434.6,671 401.7,649.3 417.5,635.5" fill="#a800d2"/>
<text x="777.7" y="2535.7" class="pk">Pt 4d<tspan class="sb" dy="12.5" dx="3">3/2</tspan></text>
<line x1="838.7" y1="2543" x2="818.7" y2="2619.5" stroke="#ff1a78" stroke-width="4.2"/><polygon points="809.6,2654.3 809.1,2614.9 829.4,2620.2" fill="#ff1a78"/>
<text x="1849.2" y="2554.5" class="pk">Pt 4d<tspan class="sb" dy="12.5" dx="3">3/2</tspan></text>
<line x1="1919.9" y1="2557.5" x2="1909.5" y2="2595.4" stroke="#ff1a78" stroke-width="4.2"/><polygon points="1899.9,2630.1 1899.9,2590.7 1920.1,2596.3" fill="#ff1a78"/>
</svg></body></html>
